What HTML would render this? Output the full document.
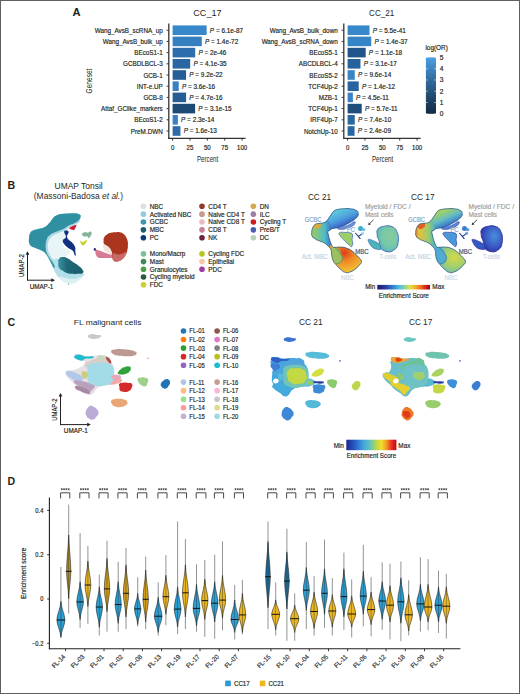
<!DOCTYPE html>
<html><head><meta charset="utf-8"><style>
html,body{margin:0;padding:0;background:#fff;}
body{width:520px;height:694px;overflow:hidden;}
#f{position:absolute;left:0;top:0;width:520px;height:694px;box-sizing:border-box;border:1px solid #606060;background:#fff;}
svg{position:absolute;left:0;top:0;font-family:"Liberation Sans",sans-serif;}
</style></head><body><div id="f"></div>
<svg width="520" height="694" viewBox="0 0 520 694" fill="#231f20">
<text x="72.40" y="16.20" font-size="11.2" font-weight="bold">A</text>
<text x="207.40" y="15.70" font-size="9.6" text-anchor="middle" textLength="28.30" lengthAdjust="spacingAndGlyphs">CC_17</text>
<rect x="172.60" y="25.40" width="34.05" height="9.60" fill="#3688cb"/>
<line x1="166.60" y1="30.20" x2="168.80" y2="30.20" stroke="#231f20" stroke-width="0.9"/>
<text x="162.70" y="32.70" font-size="7.2" text-anchor="end" textLength="68.01" lengthAdjust="spacingAndGlyphs" stroke="#231f20" stroke-width="0.18">Wang_AvsB_scRNA_up</text>
<text x="209.86" y="32.60" font-size="6.9" textLength="33.24" lengthAdjust="spacingAndGlyphs" stroke="#231f20" stroke-width="0.18"><tspan font-style="italic">P</tspan> = 6.1e-87</text>
<rect x="172.60" y="36.60" width="29.19" height="9.60" fill="#347fc0"/>
<line x1="166.60" y1="41.40" x2="168.80" y2="41.40" stroke="#231f20" stroke-width="0.9"/>
<text x="162.70" y="43.90" font-size="7.2" text-anchor="end" textLength="59.96" lengthAdjust="spacingAndGlyphs" stroke="#231f20" stroke-width="0.18">Wang_AvsB_bulk_up</text>
<text x="204.99" y="43.80" font-size="6.9" textLength="33.24" lengthAdjust="spacingAndGlyphs" stroke="#231f20" stroke-width="0.18"><tspan font-style="italic">P</tspan> = 1.4e-72</text>
<rect x="172.60" y="47.80" width="22.59" height="9.60" fill="#2d6dab"/>
<line x1="166.60" y1="52.60" x2="168.80" y2="52.60" stroke="#231f20" stroke-width="0.9"/>
<text x="162.70" y="55.10" font-size="7.2" text-anchor="end" textLength="28.40" lengthAdjust="spacingAndGlyphs" stroke="#231f20" stroke-width="0.18">BEcoS1-1</text>
<text x="198.39" y="55.00" font-size="6.9" textLength="27.89" lengthAdjust="spacingAndGlyphs" stroke="#231f20" stroke-width="0.18"><tspan font-style="italic">P</tspan> = 2e-46</text>
<rect x="172.60" y="59.00" width="17.58" height="9.60" fill="#2a67a2"/>
<line x1="166.60" y1="63.80" x2="168.80" y2="63.80" stroke="#231f20" stroke-width="0.9"/>
<text x="162.70" y="66.30" font-size="7.2" text-anchor="end" textLength="39.61" lengthAdjust="spacingAndGlyphs" stroke="#231f20" stroke-width="0.18">GCBDLBCL-3</text>
<text x="193.38" y="66.20" font-size="6.9" textLength="33.24" lengthAdjust="spacingAndGlyphs" stroke="#231f20" stroke-width="0.18"><tspan font-style="italic">P</tspan> = 4.1e-35</text>
<rect x="172.60" y="70.20" width="13.48" height="9.60" fill="#265f96"/>
<line x1="166.60" y1="75.00" x2="168.80" y2="75.00" stroke="#231f20" stroke-width="0.9"/>
<text x="162.70" y="77.50" font-size="7.2" text-anchor="end" textLength="19.28" lengthAdjust="spacingAndGlyphs" stroke="#231f20" stroke-width="0.18">GCB-1</text>
<text x="189.28" y="77.40" font-size="6.9" textLength="33.24" lengthAdjust="spacingAndGlyphs" stroke="#231f20" stroke-width="0.18"><tspan font-style="italic">P</tspan> = 9.2e-22</text>
<rect x="172.60" y="81.40" width="6.12" height="9.60" fill="#3a7fc0"/>
<line x1="166.60" y1="86.20" x2="168.80" y2="86.20" stroke="#231f20" stroke-width="0.9"/>
<text x="162.70" y="88.70" font-size="7.2" text-anchor="end" textLength="25.93" lengthAdjust="spacingAndGlyphs" stroke="#231f20" stroke-width="0.18">INT-e.UP</text>
<text x="181.92" y="88.60" font-size="6.9" textLength="33.24" lengthAdjust="spacingAndGlyphs" stroke="#231f20" stroke-width="0.18"><tspan font-style="italic">P</tspan> = 3.6e-16</text>
<rect x="172.60" y="92.60" width="13.48" height="9.60" fill="#265e94"/>
<line x1="166.60" y1="97.40" x2="168.80" y2="97.40" stroke="#231f20" stroke-width="0.9"/>
<text x="162.70" y="99.90" font-size="7.2" text-anchor="end" textLength="19.28" lengthAdjust="spacingAndGlyphs" stroke="#231f20" stroke-width="0.18">GCB-8</text>
<text x="189.28" y="99.80" font-size="6.9" textLength="33.24" lengthAdjust="spacingAndGlyphs" stroke="#231f20" stroke-width="0.18"><tspan font-style="italic">P</tspan> = 4.7e-16</text>
<rect x="172.60" y="103.80" width="22.52" height="9.60" fill="#1d4a74"/>
<line x1="166.60" y1="108.60" x2="168.80" y2="108.60" stroke="#231f20" stroke-width="0.9"/>
<text x="162.70" y="111.10" font-size="7.2" text-anchor="end" textLength="61.69" lengthAdjust="spacingAndGlyphs" stroke="#231f20" stroke-width="0.18">Attaf_GClike_markers</text>
<text x="198.32" y="111.00" font-size="6.9" textLength="33.24" lengthAdjust="spacingAndGlyphs" stroke="#231f20" stroke-width="0.18"><tspan font-style="italic">P</tspan> = 3.1e-15</text>
<rect x="172.60" y="115.00" width="5.28" height="9.60" fill="#3a80c0"/>
<line x1="166.60" y1="119.80" x2="168.80" y2="119.80" stroke="#231f20" stroke-width="0.9"/>
<text x="162.70" y="122.30" font-size="7.2" text-anchor="end" textLength="28.40" lengthAdjust="spacingAndGlyphs" stroke="#231f20" stroke-width="0.18">BEcoS1-2</text>
<text x="181.08" y="122.20" font-size="6.9" textLength="33.24" lengthAdjust="spacingAndGlyphs" stroke="#231f20" stroke-width="0.18"><tspan font-style="italic">P</tspan> = 2.3e-14</text>
<rect x="172.60" y="126.20" width="7.85" height="9.60" fill="#2d6aa6"/>
<line x1="166.60" y1="131.00" x2="168.80" y2="131.00" stroke="#231f20" stroke-width="0.9"/>
<text x="162.70" y="133.50" font-size="7.2" text-anchor="end" textLength="31.88" lengthAdjust="spacingAndGlyphs" stroke="#231f20" stroke-width="0.18">PreM.DWN</text>
<text x="183.65" y="133.40" font-size="6.9" textLength="33.24" lengthAdjust="spacingAndGlyphs" stroke="#231f20" stroke-width="0.18"><tspan font-style="italic">P</tspan> = 1.6e-13</text>
<line x1="168.80" y1="23.50" x2="168.80" y2="138.90" stroke="#333" stroke-width="1.3"/>
<line x1="168.20" y1="138.30" x2="245.60" y2="138.30" stroke="#333" stroke-width="1.2"/>
<line x1="172.60" y1="138.30" x2="172.60" y2="140.60" stroke="#231f20" stroke-width="0.9"/>
<text x="172.60" y="149.60" font-size="6.6" text-anchor="middle" textLength="3.38" lengthAdjust="spacingAndGlyphs" stroke="#231f20" stroke-width="0.18">0</text>
<line x1="189.98" y1="138.30" x2="189.98" y2="140.60" stroke="#231f20" stroke-width="0.9"/>
<text x="189.98" y="149.60" font-size="6.6" text-anchor="middle" textLength="6.75" lengthAdjust="spacingAndGlyphs" stroke="#231f20" stroke-width="0.18">25</text>
<line x1="207.35" y1="138.30" x2="207.35" y2="140.60" stroke="#231f20" stroke-width="0.9"/>
<text x="207.35" y="149.60" font-size="6.6" text-anchor="middle" textLength="6.75" lengthAdjust="spacingAndGlyphs" stroke="#231f20" stroke-width="0.18">50</text>
<line x1="224.73" y1="138.30" x2="224.73" y2="140.60" stroke="#231f20" stroke-width="0.9"/>
<text x="224.73" y="149.60" font-size="6.6" text-anchor="middle" textLength="6.75" lengthAdjust="spacingAndGlyphs" stroke="#231f20" stroke-width="0.18">75</text>
<line x1="242.10" y1="138.30" x2="242.10" y2="140.60" stroke="#231f20" stroke-width="0.9"/>
<text x="242.10" y="149.60" font-size="6.6" text-anchor="middle" textLength="10.13" lengthAdjust="spacingAndGlyphs" stroke="#231f20" stroke-width="0.18">100</text>
<text x="207.60" y="161.60" font-size="8.3" text-anchor="middle" textLength="21.30" lengthAdjust="spacingAndGlyphs">Percent</text>
<text x="381.70" y="15.70" font-size="9.6" text-anchor="middle" textLength="25.30" lengthAdjust="spacingAndGlyphs">CC_21</text>
<rect x="347.60" y="25.40" width="21.89" height="9.60" fill="#3688cb"/>
<line x1="341.60" y1="30.20" x2="343.80" y2="30.20" stroke="#231f20" stroke-width="0.9"/>
<text x="337.70" y="32.70" font-size="7.2" text-anchor="end" textLength="68.02" lengthAdjust="spacingAndGlyphs" stroke="#231f20" stroke-width="0.18">Wang_AvsB_bulk_down</text>
<text x="372.69" y="32.60" font-size="6.9" textLength="33.24" lengthAdjust="spacingAndGlyphs" stroke="#231f20" stroke-width="0.18"><tspan font-style="italic">P</tspan> = 5.5e-41</text>
<rect x="347.60" y="36.60" width="23.63" height="9.60" fill="#3584c6"/>
<line x1="341.60" y1="41.40" x2="343.80" y2="41.40" stroke="#231f20" stroke-width="0.9"/>
<text x="337.70" y="43.90" font-size="7.2" text-anchor="end" textLength="76.07" lengthAdjust="spacingAndGlyphs" stroke="#231f20" stroke-width="0.18">Wang_AvsB_scRNA_down</text>
<text x="374.43" y="43.80" font-size="6.9" textLength="33.24" lengthAdjust="spacingAndGlyphs" stroke="#231f20" stroke-width="0.18"><tspan font-style="italic">P</tspan> = 1.4e-37</text>
<rect x="347.60" y="47.80" width="18.07" height="9.60" fill="#21548a"/>
<line x1="341.60" y1="52.60" x2="343.80" y2="52.60" stroke="#231f20" stroke-width="0.9"/>
<text x="337.70" y="55.10" font-size="7.2" text-anchor="end" textLength="28.40" lengthAdjust="spacingAndGlyphs" stroke="#231f20" stroke-width="0.18">BEcoS5-1</text>
<text x="368.87" y="55.00" font-size="6.9" textLength="33.24" lengthAdjust="spacingAndGlyphs" stroke="#231f20" stroke-width="0.18"><tspan font-style="italic">P</tspan> = 1.1e-18</text>
<rect x="347.60" y="59.00" width="12.86" height="9.60" fill="#28629c"/>
<line x1="341.60" y1="63.80" x2="343.80" y2="63.80" stroke="#231f20" stroke-width="0.9"/>
<text x="337.70" y="66.30" font-size="7.2" text-anchor="end" textLength="38.91" lengthAdjust="spacingAndGlyphs" stroke="#231f20" stroke-width="0.18">ABCDLBCL-4</text>
<text x="363.66" y="66.20" font-size="6.9" textLength="33.24" lengthAdjust="spacingAndGlyphs" stroke="#231f20" stroke-width="0.18"><tspan font-style="italic">P</tspan> = 3.1e-17</text>
<rect x="347.60" y="70.20" width="7.16" height="9.60" fill="#3a84c6"/>
<line x1="341.60" y1="75.00" x2="343.80" y2="75.00" stroke="#231f20" stroke-width="0.9"/>
<text x="337.70" y="77.50" font-size="7.2" text-anchor="end" textLength="28.40" lengthAdjust="spacingAndGlyphs" stroke="#231f20" stroke-width="0.18">BEcoS5-2</text>
<text x="357.96" y="77.40" font-size="6.9" textLength="33.24" lengthAdjust="spacingAndGlyphs" stroke="#231f20" stroke-width="0.18"><tspan font-style="italic">P</tspan> = 9.6e-14</text>
<rect x="347.60" y="81.40" width="11.12" height="9.60" fill="#2a649e"/>
<line x1="341.60" y1="86.20" x2="343.80" y2="86.20" stroke="#231f20" stroke-width="0.9"/>
<text x="337.70" y="88.70" font-size="7.2" text-anchor="end" textLength="29.44" lengthAdjust="spacingAndGlyphs" stroke="#231f20" stroke-width="0.18">TCF4Up-2</text>
<text x="361.92" y="88.60" font-size="6.9" textLength="33.24" lengthAdjust="spacingAndGlyphs" stroke="#231f20" stroke-width="0.18"><tspan font-style="italic">P</tspan> = 1.4e-12</text>
<rect x="347.60" y="92.60" width="5.28" height="9.60" fill="#3a82c2"/>
<line x1="341.60" y1="97.40" x2="343.80" y2="97.40" stroke="#231f20" stroke-width="0.9"/>
<text x="337.70" y="99.90" font-size="7.2" text-anchor="end" textLength="18.92" lengthAdjust="spacingAndGlyphs" stroke="#231f20" stroke-width="0.18">MZB-1</text>
<text x="356.08" y="99.80" font-size="6.9" textLength="32.76" lengthAdjust="spacingAndGlyphs" stroke="#231f20" stroke-width="0.18"><tspan font-style="italic">P</tspan> = 4.5e-11</text>
<rect x="347.60" y="103.80" width="14.11" height="9.60" fill="#1f4d7c"/>
<line x1="341.60" y1="108.60" x2="343.80" y2="108.60" stroke="#231f20" stroke-width="0.9"/>
<text x="337.70" y="111.10" font-size="7.2" text-anchor="end" textLength="29.44" lengthAdjust="spacingAndGlyphs" stroke="#231f20" stroke-width="0.18">TCF4Up-1</text>
<text x="364.91" y="111.00" font-size="6.9" textLength="32.76" lengthAdjust="spacingAndGlyphs" stroke="#231f20" stroke-width="0.18"><tspan font-style="italic">P</tspan> = 5.7e-11</text>
<rect x="347.60" y="115.00" width="7.16" height="9.60" fill="#2a66a0"/>
<line x1="341.60" y1="119.80" x2="343.80" y2="119.80" stroke="#231f20" stroke-width="0.9"/>
<text x="337.70" y="122.30" font-size="7.2" text-anchor="end" textLength="27.34" lengthAdjust="spacingAndGlyphs" stroke="#231f20" stroke-width="0.18">IRF4Up-7</text>
<text x="357.96" y="122.20" font-size="6.9" textLength="33.24" lengthAdjust="spacingAndGlyphs" stroke="#231f20" stroke-width="0.18"><tspan font-style="italic">P</tspan> = 7.4e-10</text>
<rect x="347.60" y="126.20" width="6.95" height="9.60" fill="#2a66a0"/>
<line x1="341.60" y1="131.00" x2="343.80" y2="131.00" stroke="#231f20" stroke-width="0.9"/>
<text x="337.70" y="133.50" font-size="7.2" text-anchor="end" textLength="33.65" lengthAdjust="spacingAndGlyphs" stroke="#231f20" stroke-width="0.18">NotchUp-10</text>
<text x="357.75" y="133.40" font-size="6.9" textLength="33.24" lengthAdjust="spacingAndGlyphs" stroke="#231f20" stroke-width="0.18"><tspan font-style="italic">P</tspan> = 2.4e-09</text>
<line x1="343.80" y1="23.50" x2="343.80" y2="138.90" stroke="#333" stroke-width="1.3"/>
<line x1="343.20" y1="138.30" x2="420.60" y2="138.30" stroke="#333" stroke-width="1.2"/>
<line x1="347.60" y1="138.30" x2="347.60" y2="140.60" stroke="#231f20" stroke-width="0.9"/>
<text x="347.60" y="149.60" font-size="6.6" text-anchor="middle" textLength="3.38" lengthAdjust="spacingAndGlyphs" stroke="#231f20" stroke-width="0.18">0</text>
<line x1="364.98" y1="138.30" x2="364.98" y2="140.60" stroke="#231f20" stroke-width="0.9"/>
<text x="364.98" y="149.60" font-size="6.6" text-anchor="middle" textLength="6.75" lengthAdjust="spacingAndGlyphs" stroke="#231f20" stroke-width="0.18">25</text>
<line x1="382.35" y1="138.30" x2="382.35" y2="140.60" stroke="#231f20" stroke-width="0.9"/>
<text x="382.35" y="149.60" font-size="6.6" text-anchor="middle" textLength="6.75" lengthAdjust="spacingAndGlyphs" stroke="#231f20" stroke-width="0.18">50</text>
<line x1="399.73" y1="138.30" x2="399.73" y2="140.60" stroke="#231f20" stroke-width="0.9"/>
<text x="399.73" y="149.60" font-size="6.6" text-anchor="middle" textLength="6.75" lengthAdjust="spacingAndGlyphs" stroke="#231f20" stroke-width="0.18">75</text>
<line x1="417.10" y1="138.30" x2="417.10" y2="140.60" stroke="#231f20" stroke-width="0.9"/>
<text x="417.10" y="149.60" font-size="6.6" text-anchor="middle" textLength="10.13" lengthAdjust="spacingAndGlyphs" stroke="#231f20" stroke-width="0.18">100</text>
<text x="382.60" y="161.60" font-size="8.3" text-anchor="middle" textLength="21.30" lengthAdjust="spacingAndGlyphs">Percent</text>
<text x="92.20" y="81.00" font-size="9.6" text-anchor="middle" textLength="24.80" lengthAdjust="spacingAndGlyphs" transform="rotate(-90 92.20 81.00)">Geneset</text>
<defs><linearGradient id="gOR" x1="0" y1="1" x2="0" y2="0"><stop offset="0" stop-color="#132b43"/><stop offset="0.2" stop-color="#1d3f5f"/><stop offset="0.4" stop-color="#28557e"/><stop offset="0.6" stop-color="#336c9f"/><stop offset="0.8" stop-color="#3e84c1"/><stop offset="1" stop-color="#4d9fe4"/></linearGradient></defs>
<rect x="425.90" y="57.40" width="10.10" height="56.40" fill="url(#gOR)"/>
<line x1="425.90" y1="113.80" x2="427.60" y2="113.80" stroke="#ffffff" stroke-width="0.6"/>
<line x1="434.30" y1="113.80" x2="436.00" y2="113.80" stroke="#ffffff" stroke-width="0.6"/>
<text x="439.80" y="116.10" font-size="6.6" stroke="#231f20" stroke-width="0.18">0</text>
<line x1="425.90" y1="102.52" x2="427.60" y2="102.52" stroke="#ffffff" stroke-width="0.6"/>
<line x1="434.30" y1="102.52" x2="436.00" y2="102.52" stroke="#ffffff" stroke-width="0.6"/>
<text x="439.80" y="104.82" font-size="6.6" stroke="#231f20" stroke-width="0.18">1</text>
<line x1="425.90" y1="91.24" x2="427.60" y2="91.24" stroke="#ffffff" stroke-width="0.6"/>
<line x1="434.30" y1="91.24" x2="436.00" y2="91.24" stroke="#ffffff" stroke-width="0.6"/>
<text x="439.80" y="93.54" font-size="6.6" stroke="#231f20" stroke-width="0.18">2</text>
<line x1="425.90" y1="79.96" x2="427.60" y2="79.96" stroke="#ffffff" stroke-width="0.6"/>
<line x1="434.30" y1="79.96" x2="436.00" y2="79.96" stroke="#ffffff" stroke-width="0.6"/>
<text x="439.80" y="82.26" font-size="6.6" stroke="#231f20" stroke-width="0.18">3</text>
<line x1="425.90" y1="68.68" x2="427.60" y2="68.68" stroke="#ffffff" stroke-width="0.6"/>
<line x1="434.30" y1="68.68" x2="436.00" y2="68.68" stroke="#ffffff" stroke-width="0.6"/>
<text x="439.80" y="70.98" font-size="6.6" stroke="#231f20" stroke-width="0.18">4</text>
<line x1="425.90" y1="57.40" x2="427.60" y2="57.40" stroke="#ffffff" stroke-width="0.6"/>
<line x1="434.30" y1="57.40" x2="436.00" y2="57.40" stroke="#ffffff" stroke-width="0.6"/>
<text x="439.80" y="59.70" font-size="6.6" stroke="#231f20" stroke-width="0.18">5</text>
<text x="425.40" y="50.30" font-size="6.9" textLength="22.50" lengthAdjust="spacingAndGlyphs" stroke="#231f20" stroke-width="0.18">log(OR)</text>
<text x="7.40" y="188.80" font-size="10.6" font-weight="bold">B</text>
<text x="78.60" y="189.20" font-size="8.6" text-anchor="middle" textLength="48.10" lengthAdjust="spacingAndGlyphs">UMAP Tonsil</text>
<text x="33.8" y="198.9" font-size="8.6" textLength="89.4" lengthAdjust="spacingAndGlyphs" fill="#2a2a2a">(Massoni-Badosa <tspan font-style="italic">et al.</tspan>)</text>
<path d="M46.50,236.00 C48.67,232.27 48.17,234.53 52.00,232.80 C55.83,231.07 54.00,232.07 58.00,230.80 C62.00,229.53 60.67,229.43 64.00,229.00 C67.33,228.57 67.17,227.83 68.00,229.50 C68.83,231.17 67.83,230.83 66.50,234.00 C65.17,237.17 65.17,235.67 64.00,239.00 C62.83,242.33 62.33,240.83 63.00,244.00 C63.67,247.17 63.67,246.17 66.00,248.50 C68.33,250.83 70.00,248.50 70.00,251.00 C70.00,253.50 69.33,254.00 66.00,256.00 C62.67,258.00 63.33,255.67 60.00,257.00 C56.67,258.33 58.33,258.00 56.00,260.00 C53.67,262.00 55.00,263.67 53.00,263.00 C51.00,262.33 52.17,261.67 50.00,258.00 C47.83,254.33 48.00,256.67 46.50,252.00 C45.00,247.33 45.50,249.33 45.50,244.00 C45.50,238.67 44.33,239.73 46.50,236.00Z" fill="#e9f4f7"/>
<path d="M51.50,259.40 C52.55,258.50 52.90,259.62 55.00,259.50 C57.10,259.38 57.00,257.05 58.50,259.00 C60.00,260.95 57.75,262.25 60.00,266.00 C62.25,269.75 61.80,269.16 66.00,271.50 C70.20,273.84 68.81,273.11 74.00,273.80 C79.19,274.49 80.90,272.84 83.30,273.80 C85.70,274.76 83.59,274.99 82.00,277.00 C80.41,279.01 81.00,278.61 78.00,280.50 C75.00,282.39 75.60,282.70 72.00,283.30 C68.40,283.90 69.60,283.94 66.00,282.50 C62.40,281.06 63.15,281.35 60.00,278.50 C56.85,275.65 57.60,276.45 55.50,273.00 C53.40,269.55 54.20,270.15 53.00,267.00 C51.80,263.85 51.95,264.78 51.50,262.50 C51.05,260.22 50.45,260.30 51.50,259.40Z" fill="#b2dfe8"/>
<path d="M60.00,276.50 C61.50,276.00 61.33,277.23 66.00,278.00 C70.67,278.77 69.00,279.20 74.00,278.80 C79.00,278.40 79.67,276.13 81.00,276.80 C82.33,277.47 81.00,278.53 78.00,280.80 C75.00,283.07 76.00,282.93 72.00,283.60 C68.00,284.27 69.50,284.17 66.00,282.80 C62.50,281.43 63.50,281.60 61.50,279.50 C59.50,277.40 58.50,277.00 60.00,276.50Z" fill="#dcf0f4"/>
<path d="M78.60,221.20 C77.07,222.10 76.44,222.70 73.50,224.20 C70.56,225.70 71.59,224.64 68.80,226.20 C66.01,227.76 66.96,227.87 64.20,229.40 C61.44,230.93 62.72,230.04 59.60,231.30 C56.48,232.56 56.74,232.01 53.80,233.60 C50.86,235.19 51.66,234.68 49.80,236.60 C47.94,238.52 48.56,237.78 47.60,240.00 C46.64,242.22 46.90,241.48 46.60,244.00 C46.30,246.52 46.30,245.70 46.60,248.40 C46.90,251.10 46.64,250.30 47.60,253.00 C48.56,255.70 48.36,254.94 49.80,257.40 C51.24,259.86 51.62,260.06 52.40,261.20" fill="none" stroke="#a9d8e3" stroke-width="2.6" stroke-linecap="round"/>
<path d="M56.20,215.50 C59.15,214.20 58.20,214.45 63.10,213.80 C68.00,213.15 68.94,213.06 73.50,213.20 C78.06,213.34 77.19,213.17 79.20,214.30 C81.21,215.43 80.91,215.39 80.60,217.20 C80.29,219.01 80.11,218.89 78.10,220.70 C76.09,222.51 76.14,222.21 73.50,223.60 C70.86,224.99 71.44,224.18 68.80,225.60 C66.16,227.02 66.81,227.21 64.20,228.60 C61.59,229.99 62.55,229.31 59.60,230.50 C56.65,231.69 56.75,231.33 53.80,232.80 C50.85,234.27 51.16,233.89 49.20,235.70 C47.25,237.51 47.86,236.90 46.90,239.20 C45.94,241.50 46.11,241.19 45.80,243.80 C45.49,246.41 45.49,245.79 45.80,248.40 C46.11,251.01 45.94,250.39 46.90,253.00 C47.86,255.61 47.70,255.11 49.20,257.60 C50.70,260.09 50.67,259.42 52.20,261.80 C53.73,264.18 54.20,264.36 54.60,266.00 C55.00,267.64 54.39,268.05 53.60,267.60 C52.81,267.15 52.93,266.50 51.80,264.40 C50.67,262.30 50.76,262.35 49.60,260.20 C48.44,258.05 48.89,258.73 47.70,256.80 C46.51,254.87 46.93,255.07 45.40,253.40 C43.87,251.73 44.82,252.32 42.30,250.90 C39.78,249.48 39.64,249.73 36.50,248.40 C33.36,247.07 33.30,247.84 31.20,246.20 C29.10,244.56 29.72,244.92 29.10,242.60 C28.48,240.28 28.69,240.72 29.00,238.00 C29.31,235.28 29.04,235.12 30.20,233.00 C31.36,230.88 30.66,231.69 33.10,230.50 C35.54,229.31 35.54,229.79 38.80,228.80 C42.06,227.81 41.65,228.64 44.60,227.00 C47.55,225.36 46.91,225.44 49.20,223.00 C51.50,220.56 50.72,220.53 52.70,218.40 C54.68,216.28 53.25,216.80 56.20,215.50Z" fill="#2f90a2"/>
<defs><linearGradient id="gMBC" x1="0" y1="0" x2="1" y2="0"><stop offset="0" stop-color="#3a92a4"/><stop offset="0.35" stop-color="#1f6878"/><stop offset="1" stop-color="#1b5d6c"/></linearGradient></defs>
<path d="M59.20,258.50 C60.64,256.61 60.49,257.00 63.10,257.00 C65.71,257.00 65.02,257.06 67.90,258.50 C70.78,259.94 69.52,259.64 72.70,261.80 C75.88,263.96 75.62,263.39 78.50,265.70 C81.38,268.01 81.01,267.34 82.30,269.50 C83.59,271.66 83.94,271.61 82.80,272.90 C81.66,274.19 81.83,273.53 78.50,273.80 C75.17,274.07 75.18,274.07 71.70,273.80 C68.22,273.53 69.48,273.74 66.90,272.90 C64.32,272.06 65.41,272.44 63.10,271.00 C60.79,269.56 60.64,270.41 59.20,268.10 C57.76,265.79 58.30,266.18 58.30,263.30 C58.30,260.42 57.76,260.39 59.20,258.50Z" fill="url(#gMBC)"/>
<circle cx="68.40" cy="284.40" r="0.6" fill="#8aa4b0"/>
<path d="M64.40,231.00 C64.84,230.32 65.54,230.51 66.50,230.60 C67.46,230.69 68.10,230.72 68.50,231.40 C68.90,232.08 68.48,232.66 68.20,233.50 C67.92,234.34 67.53,234.07 67.30,235.00 C67.07,235.93 66.92,236.45 67.20,237.50 C67.48,238.55 67.50,238.45 68.50,239.50 C69.50,240.55 70.22,240.72 71.50,242.00 C72.78,243.28 73.09,243.60 74.00,245.00 C74.91,246.40 75.12,246.72 75.40,248.00 C75.68,249.28 75.15,249.22 75.20,250.50 C75.25,251.78 75.46,252.31 75.60,253.50 C75.74,254.69 76.03,255.25 75.80,255.60 C75.57,255.95 75.11,255.84 74.60,255.00 C74.09,254.16 74.09,253.05 73.60,252.00 C73.11,250.95 73.34,251.20 72.50,250.50 C71.66,249.80 71.40,249.93 70.00,249.00 C68.60,248.07 67.95,247.78 66.50,246.50 C65.05,245.22 64.66,244.78 63.80,243.50 C62.94,242.22 62.85,242.00 62.80,241.00 C62.75,240.00 62.99,239.90 63.60,239.20 C64.21,238.50 64.89,238.86 65.40,238.00 C65.91,237.14 65.99,236.55 65.80,235.50 C65.61,234.45 64.93,234.55 64.60,233.50 C64.27,232.45 63.96,231.68 64.40,231.00Z" fill="#12307f"/>
<path d="M68.8,228.3 C71,226.5 74,225.5 76.6,224.8 C76,226.8 75.2,228.8 74,230.2 C72,229.8 70.3,229.2 68.8,228.3 Z" fill="#cc2030"/>
<path d="M82.00,234.60 C81.90,233.43 81.97,233.60 83.30,232.80 C84.63,232.00 84.37,232.27 86.00,232.20 C87.63,232.13 86.80,232.80 88.20,232.60 C89.60,232.40 89.07,231.53 90.20,231.60 C91.33,231.67 91.27,231.67 91.60,232.80 C91.93,233.93 91.87,233.47 91.20,235.00 C90.53,236.53 90.47,236.33 89.60,237.40 C88.73,238.47 89.33,238.47 88.60,238.20 C87.87,237.93 88.43,237.20 87.40,236.60 C86.37,236.00 86.77,236.50 85.50,236.40 C84.23,236.30 84.77,236.90 83.60,236.30 C82.43,235.70 82.10,235.77 82.00,234.60Z" fill="#88b49c"/>
<path d="M79.5,240.6 L82.6,242.3 L86.4,239.9 L87,241.2 L83.6,245.7 L81.4,244.4 Z" fill="#c8d12a"/>
<path d="M95.60,250.00 C96.53,249.55 97.03,250.07 99.00,250.60 C100.97,251.13 100.87,251.23 103.00,252.00 C105.13,252.77 105.13,252.81 107.00,253.50 C108.87,254.19 108.43,253.99 110.00,254.60 C111.57,255.21 112.26,255.03 112.90,255.80 C113.54,256.57 113.17,256.91 112.40,257.50 C111.63,258.09 111.71,257.89 110.00,258.00 C108.29,258.11 108.40,257.90 106.00,257.90 C103.60,257.90 103.19,258.19 101.00,258.00 C98.81,257.81 99.13,258.00 97.80,257.20 C96.47,256.40 96.61,256.31 96.00,255.00 C95.39,253.69 95.61,253.63 95.50,252.30 C95.39,250.97 94.67,250.45 95.60,250.00Z" fill="#d77b95"/>
<path d="M104.20,237.50 C105.22,235.73 104.96,236.01 107.00,234.60 C109.04,233.19 108.36,233.52 111.00,232.80 C113.64,232.08 113.10,232.35 115.80,232.20 C118.50,232.05 117.69,231.76 120.00,232.30 C122.31,232.84 121.70,232.59 123.50,234.00 C125.30,235.41 124.77,234.90 126.00,237.00 C127.23,239.10 127.03,238.45 127.60,241.00 C128.17,243.55 127.96,242.80 127.90,245.50 C127.84,248.20 128.03,247.30 127.40,250.00 C126.77,252.70 127.12,252.01 125.80,254.50 C124.48,256.99 124.89,256.41 123.00,258.30 C121.11,260.19 121.51,259.81 119.50,260.80 C117.49,261.79 118.07,261.72 116.30,261.60 C114.53,261.48 114.80,261.63 113.60,260.40 C112.40,259.17 112.90,259.42 112.30,257.50 C111.70,255.58 112.17,256.10 111.60,254.00 C111.03,251.90 111.30,252.45 110.40,250.50 C109.50,248.55 109.92,249.06 108.60,247.50 C107.28,245.94 107.38,246.41 106.00,245.30 C104.62,244.19 104.72,245.24 104.00,243.80 C103.28,242.36 103.54,242.39 103.60,240.50 C103.66,238.61 103.18,239.27 104.20,237.50Z" fill="#aa3620"/>
<path d="M113.50,253.50 C115.30,252.50 115.00,254.50 118.00,254.50 C121.00,254.50 119.83,254.33 122.50,253.50 C125.17,252.67 125.17,251.17 126.00,252.00 C126.83,252.83 126.33,253.50 125.00,256.00 C123.67,258.50 124.33,257.77 122.00,259.50 C119.67,261.23 120.60,260.83 118.00,261.20 C115.40,261.57 116.00,261.83 114.20,260.60 C112.40,259.37 112.83,259.87 112.60,257.50 C112.37,255.13 111.70,254.50 113.50,253.50Z" fill="#c9696a"/>
<path d="M103.50,245.30 C104.47,244.40 104.50,244.97 106.50,245.80 C108.50,246.63 107.87,246.07 109.50,247.80 C111.13,249.53 110.63,249.07 111.40,251.00 C112.17,252.93 112.77,252.87 111.80,253.60 C110.83,254.33 110.60,253.90 108.50,253.20 C106.40,252.50 107.13,253.07 105.50,251.50 C103.87,249.93 104.27,250.57 103.60,248.50 C102.93,246.43 102.53,246.20 103.50,245.30Z" fill="#f2e2da"/>
<ellipse cx="94.8" cy="249.4" rx="1.1" ry="1.4" fill="#2b2a78"/>
<line x1="27.50" y1="280.20" x2="52.50" y2="280.20" stroke="#231f20" stroke-width="1.0"/>
<line x1="27.50" y1="280.70" x2="27.50" y2="253.70" stroke="#231f20" stroke-width="1.0"/>
<path d="M55.00,280.20 L51.40,278.30 L51.40,282.10 Z" fill="#231f20"/>
<path d="M27.50,251.20 L25.60,254.80 L29.40,254.80 Z" fill="#231f20"/>
<text x="41.50" y="289.10" font-size="6.6" text-anchor="middle" textLength="23.70" lengthAdjust="spacingAndGlyphs" stroke="#231f20" stroke-width="0.18">UMAP-1</text>
<text x="23.60" y="265.60" font-size="6.6" text-anchor="middle" textLength="23.00" lengthAdjust="spacingAndGlyphs" transform="rotate(-90 23.60 265.60)" stroke="#231f20" stroke-width="0.18">UMAP-2</text>
<circle cx="143.40" cy="206.30" r="2.8" fill="#dcdfe4"/>
<text x="149.70" y="208.70" font-size="7.1" textLength="13.52" lengthAdjust="spacingAndGlyphs" stroke="#231f20" stroke-width="0.18">NBC</text>
<circle cx="143.40" cy="214.15" r="2.8" fill="#93cadb"/>
<text x="149.70" y="216.55" font-size="7.1" textLength="41.63" lengthAdjust="spacingAndGlyphs" stroke="#231f20" stroke-width="0.18">Activated NBC</text>
<circle cx="143.40" cy="222.00" r="2.8" fill="#3e98ad"/>
<text x="149.70" y="224.40" font-size="7.1" textLength="18.50" lengthAdjust="spacingAndGlyphs" stroke="#231f20" stroke-width="0.18">GCBC</text>
<circle cx="143.40" cy="229.85" r="2.8" fill="#1f5d6d"/>
<text x="149.70" y="232.25" font-size="7.1" textLength="14.23" lengthAdjust="spacingAndGlyphs" stroke="#231f20" stroke-width="0.18">MBC</text>
<circle cx="143.40" cy="237.70" r="2.8" fill="#0d3a78"/>
<text x="149.70" y="240.10" font-size="7.1" textLength="8.89" lengthAdjust="spacingAndGlyphs" stroke="#231f20" stroke-width="0.18">PC</text>
<circle cx="202.00" cy="206.30" r="2.8" fill="#8c3a2a"/>
<text x="208.30" y="208.70" font-size="7.1" textLength="18.38" lengthAdjust="spacingAndGlyphs" stroke="#231f20" stroke-width="0.18">CD4 T</text>
<circle cx="202.00" cy="214.15" r="2.8" fill="#c9998d"/>
<text x="208.30" y="216.55" font-size="7.1" textLength="36.53" lengthAdjust="spacingAndGlyphs" stroke="#231f20" stroke-width="0.18">Naive CD4 T</text>
<circle cx="202.00" cy="222.00" r="2.8" fill="#eabdc4"/>
<text x="208.30" y="224.40" font-size="7.1" textLength="36.53" lengthAdjust="spacingAndGlyphs" stroke="#231f20" stroke-width="0.18">Naive CD8 T</text>
<circle cx="202.00" cy="229.85" r="2.8" fill="#c5819c"/>
<text x="208.30" y="232.25" font-size="7.1" textLength="18.38" lengthAdjust="spacingAndGlyphs" stroke="#231f20" stroke-width="0.18">CD8 T</text>
<circle cx="202.00" cy="237.70" r="2.8" fill="#6b2443"/>
<text x="208.30" y="240.10" font-size="7.1" textLength="8.89" lengthAdjust="spacingAndGlyphs" stroke="#231f20" stroke-width="0.18">NK</text>
<circle cx="253.40" cy="206.30" r="2.8" fill="#d3a94d"/>
<text x="259.70" y="208.70" font-size="7.1" textLength="9.25" lengthAdjust="spacingAndGlyphs" stroke="#231f20" stroke-width="0.18">DN</text>
<circle cx="253.40" cy="214.15" r="2.8" fill="#9b7fa8"/>
<text x="259.70" y="216.55" font-size="7.1" textLength="9.96" lengthAdjust="spacingAndGlyphs" stroke="#231f20" stroke-width="0.18">ILC</text>
<circle cx="253.40" cy="222.00" r="2.8" fill="#cc1c1e"/>
<text x="259.70" y="224.40" font-size="7.1" textLength="26.56" lengthAdjust="spacingAndGlyphs" stroke="#231f20" stroke-width="0.18">Cycling T</text>
<circle cx="253.40" cy="229.85" r="2.8" fill="#4a5bb0"/>
<text x="259.70" y="232.25" font-size="7.1" textLength="19.92" lengthAdjust="spacingAndGlyphs" stroke="#231f20" stroke-width="0.18">PreB/T</text>
<circle cx="253.40" cy="237.70" r="2.8" fill="#b9d1b9"/>
<text x="259.70" y="240.10" font-size="7.1" textLength="9.25" lengthAdjust="spacingAndGlyphs" stroke="#231f20" stroke-width="0.18">DC</text>
<circle cx="143.50" cy="253.90" r="2.8" fill="#7dbf9a"/>
<text x="149.80" y="256.30" font-size="7.1" textLength="35.58" lengthAdjust="spacingAndGlyphs" stroke="#231f20" stroke-width="0.18">Mono/Macrp</text>
<circle cx="143.50" cy="261.60" r="2.8" fill="#3d8a5e"/>
<text x="149.80" y="264.00" font-size="7.1" textLength="13.87" lengthAdjust="spacingAndGlyphs" stroke="#231f20" stroke-width="0.18">Mast</text>
<circle cx="143.50" cy="269.30" r="2.8" fill="#4aa043"/>
<text x="149.80" y="271.70" font-size="7.1" textLength="37.72" lengthAdjust="spacingAndGlyphs" stroke="#231f20" stroke-width="0.18">Granulocytes</text>
<circle cx="143.50" cy="277.00" r="2.8" fill="#2e5a3e"/>
<text x="149.80" y="279.40" font-size="7.1" textLength="44.83" lengthAdjust="spacingAndGlyphs" stroke="#231f20" stroke-width="0.18">Cycling myeloid</text>
<circle cx="143.50" cy="284.70" r="2.8" fill="#c8d02a"/>
<text x="149.80" y="287.10" font-size="7.1" textLength="13.16" lengthAdjust="spacingAndGlyphs" stroke="#231f20" stroke-width="0.18">FDC</text>
<circle cx="202.00" cy="253.90" r="2.8" fill="#b6c41f"/>
<text x="208.30" y="256.30" font-size="7.1" textLength="35.93" lengthAdjust="spacingAndGlyphs" stroke="#231f20" stroke-width="0.18">Cycling FDC</text>
<circle cx="202.00" cy="261.60" r="2.8" fill="#f6caa9"/>
<text x="208.30" y="264.00" font-size="7.1" textLength="25.98" lengthAdjust="spacingAndGlyphs" stroke="#231f20" stroke-width="0.18">Epithelial</text>
<circle cx="202.00" cy="269.30" r="2.8" fill="#a23ca2"/>
<text x="208.30" y="271.70" font-size="7.1" textLength="13.52" lengthAdjust="spacingAndGlyphs" stroke="#231f20" stroke-width="0.18">PDC</text>
<text x="307.90" y="199.60" font-size="8.9" textLength="23.10" lengthAdjust="spacingAndGlyphs">CC 21</text>
<text x="411.00" y="199.60" font-size="8.9" textLength="23.60" lengthAdjust="spacingAndGlyphs">CC 17</text>
<defs><clipPath id="cma"><path d="M312.30,236.20 C311.19,234.13 311.71,234.60 311.80,232.20 C311.89,229.80 311.67,230.45 312.60,228.20 C313.53,225.95 313.16,226.11 314.90,224.70 C316.64,223.29 316.15,224.01 318.40,223.50 C320.65,222.99 320.15,223.57 322.40,223.00 C324.65,222.43 323.65,223.55 325.90,221.60 C328.15,219.65 327.80,219.32 329.90,216.50 C332.00,213.68 330.95,214.21 332.90,212.20 C334.85,210.19 333.28,210.82 336.40,209.80 C339.52,208.78 339.16,209.10 343.30,208.80 C347.44,208.50 346.45,208.38 350.20,208.80 C353.95,209.22 353.40,208.85 355.80,210.20 C358.20,211.55 357.78,211.32 358.20,213.30 C358.62,215.28 358.34,214.94 357.20,216.80 C356.06,218.66 356.08,218.06 354.40,219.50 C352.72,220.94 353.25,220.55 351.60,221.60 C349.95,222.65 350.55,222.16 348.90,223.00 C347.25,223.84 347.78,223.56 346.10,224.40 C344.42,225.24 345.16,224.96 343.30,225.80 C341.44,226.64 341.97,226.57 339.90,227.20 C337.83,227.83 338.50,227.51 336.40,227.90 C334.30,228.29 334.76,227.90 332.90,228.50 C331.04,229.10 331.67,228.97 330.20,229.90 C328.73,230.83 328.48,229.92 328.00,231.60 C327.52,233.28 328.12,233.13 328.60,235.50 C329.08,237.87 328.91,237.19 329.60,239.50 C330.29,241.81 330.00,241.07 330.90,243.20 C331.80,245.33 331.31,245.37 332.60,246.60 C333.89,247.83 332.56,247.15 335.20,247.30 C337.84,247.45 337.71,246.74 341.40,247.10 C345.09,247.46 344.32,247.33 347.50,248.50 C350.68,249.67 349.69,249.41 352.00,251.00 C354.31,252.59 352.86,251.55 355.20,253.80 C357.54,256.05 357.94,256.19 359.80,258.50 C361.66,260.81 361.22,259.85 361.40,261.50 C361.58,263.15 361.12,262.83 360.40,264.00 C359.68,265.17 360.56,263.84 359.00,265.40 C357.44,266.96 358.20,267.13 355.20,269.20 C352.20,271.27 352.00,271.37 349.00,272.30 C346.00,273.23 347.48,272.99 345.20,272.30 C342.92,271.61 344.16,272.31 341.40,270.00 C338.64,267.69 338.55,267.60 336.00,264.60 C333.45,261.60 334.16,262.76 332.90,260.00 C331.64,257.24 332.25,257.95 331.80,255.40 C331.35,252.85 331.97,253.78 331.40,251.50 C330.83,249.22 331.22,249.78 329.90,247.80 C328.58,245.82 328.89,246.46 327.00,244.90 C325.11,243.34 325.85,243.80 323.60,242.60 C321.35,241.40 321.93,241.95 319.50,240.90 C317.07,239.85 317.66,240.51 315.50,239.10 C313.34,237.69 313.41,238.27 312.30,236.20Z"/></clipPath><linearGradient id="gba" gradientUnits="userSpaceOnUse" x1="339" y1="210" x2="346" y2="226.5"><stop offset="0" stop-color="#5cc8dc"/><stop offset="0.5" stop-color="#4e9ede"/><stop offset="0.85" stop-color="#3a68c8"/><stop offset="1" stop-color="#3340a8"/></linearGradient><radialGradient id="gwa" cx="0.45" cy="0.3" r="0.6"><stop offset="0" stop-color="#e23c18"/><stop offset="0.45" stop-color="#ee8a26"/><stop offset="1" stop-color="#f2c234"/></radialGradient><linearGradient id="gla" x1="0" y1="0" x2="1" y2="0"><stop offset="0" stop-color="#9ccc64"/><stop offset="0.3" stop-color="#8cc874"/><stop offset="0.7" stop-color="#52bcc4"/><stop offset="1" stop-color="#3c74cc"/></linearGradient></defs>
<path d="M312.30,236.20 C311.19,234.13 311.71,234.60 311.80,232.20 C311.89,229.80 311.67,230.45 312.60,228.20 C313.53,225.95 313.16,226.11 314.90,224.70 C316.64,223.29 316.15,224.01 318.40,223.50 C320.65,222.99 320.15,223.57 322.40,223.00 C324.65,222.43 323.65,223.55 325.90,221.60 C328.15,219.65 327.80,219.32 329.90,216.50 C332.00,213.68 330.95,214.21 332.90,212.20 C334.85,210.19 333.28,210.82 336.40,209.80 C339.52,208.78 339.16,209.10 343.30,208.80 C347.44,208.50 346.45,208.38 350.20,208.80 C353.95,209.22 353.40,208.85 355.80,210.20 C358.20,211.55 357.78,211.32 358.20,213.30 C358.62,215.28 358.34,214.94 357.20,216.80 C356.06,218.66 356.08,218.06 354.40,219.50 C352.72,220.94 353.25,220.55 351.60,221.60 C349.95,222.65 350.55,222.16 348.90,223.00 C347.25,223.84 347.78,223.56 346.10,224.40 C344.42,225.24 345.16,224.96 343.30,225.80 C341.44,226.64 341.97,226.57 339.90,227.20 C337.83,227.83 338.50,227.51 336.40,227.90 C334.30,228.29 334.76,227.90 332.90,228.50 C331.04,229.10 331.67,228.97 330.20,229.90 C328.73,230.83 328.48,229.92 328.00,231.60 C327.52,233.28 328.12,233.13 328.60,235.50 C329.08,237.87 328.91,237.19 329.60,239.50 C330.29,241.81 330.00,241.07 330.90,243.20 C331.80,245.33 331.31,245.37 332.60,246.60 C333.89,247.83 332.56,247.15 335.20,247.30 C337.84,247.45 337.71,246.74 341.40,247.10 C345.09,247.46 344.32,247.33 347.50,248.50 C350.68,249.67 349.69,249.41 352.00,251.00 C354.31,252.59 352.86,251.55 355.20,253.80 C357.54,256.05 357.94,256.19 359.80,258.50 C361.66,260.81 361.22,259.85 361.40,261.50 C361.58,263.15 361.12,262.83 360.40,264.00 C359.68,265.17 360.56,263.84 359.00,265.40 C357.44,266.96 358.20,267.13 355.20,269.20 C352.20,271.27 352.00,271.37 349.00,272.30 C346.00,273.23 347.48,272.99 345.20,272.30 C342.92,271.61 344.16,272.31 341.40,270.00 C338.64,267.69 338.55,267.60 336.00,264.60 C333.45,261.60 334.16,262.76 332.90,260.00 C331.64,257.24 332.25,257.95 331.80,255.40 C331.35,252.85 331.97,253.78 331.40,251.50 C330.83,249.22 331.22,249.78 329.90,247.80 C328.58,245.82 328.89,246.46 327.00,244.90 C325.11,243.34 325.85,243.80 323.60,242.60 C321.35,241.40 321.93,241.95 319.50,240.90 C317.07,239.85 317.66,240.51 315.50,239.10 C313.34,237.69 313.41,238.27 312.30,236.20Z" fill="#4aa6dc"/>
<g clip-path="url(#cma)">
<path d="M326.00,214.00 C329.33,208.33 327.33,209.67 334.00,207.00 C340.67,204.33 338.00,206.00 346.00,206.00 C354.00,206.00 353.00,204.67 358.00,207.00 C363.00,209.33 361.33,209.00 361.00,213.00 C360.67,217.00 361.33,214.67 357.00,219.00 C352.67,223.33 355.00,222.33 348.00,226.00 C341.00,229.67 343.00,227.67 336.00,230.00 C329.00,232.33 331.00,235.00 327.00,233.00 C323.00,231.00 324.33,230.33 324.00,224.00 C323.67,217.67 322.67,219.67 326.00,214.00Z" fill="url(#gba)"/>
<path d="M309.00,221.00 C310.87,217.67 312.00,219.90 316.00,219.50 C320.00,219.10 320.53,218.83 324.00,219.50 C327.47,220.17 327.13,219.20 329.00,222.00 C330.87,224.80 330.47,225.20 331.00,230.00 C331.53,234.80 331.27,235.20 331.00,240.00 C330.73,244.80 332.40,246.67 330.00,248.00 C327.60,249.33 326.53,246.87 322.00,245.00 C317.47,243.13 316.47,244.47 313.00,241.00 C309.53,237.53 310.07,237.33 309.00,232.00 C307.93,226.67 307.13,224.33 309.00,221.00Z" fill="url(#gla)"/>
<path d="M313.00,223.50 C314.00,221.50 315.33,222.17 318.00,222.50 C320.67,222.83 320.67,222.67 321.00,224.50 C321.33,226.33 321.00,226.67 319.00,228.00 C317.00,229.33 317.00,230.00 315.00,228.50 C313.00,227.00 312.00,225.50 313.00,223.50Z" fill="#e8a834" opacity="0.85"/>
<path d="M330.00,246.00 C333.67,240.07 334.67,245.20 342.00,246.20 C349.33,247.20 345.33,245.07 352.00,249.00 C358.67,252.93 358.67,252.00 362.00,258.00 C365.33,264.00 365.33,261.67 362.00,267.00 C358.67,272.33 359.33,272.00 352.00,274.00 C344.67,276.00 347.00,276.33 340.00,273.00 C333.00,269.67 334.33,273.00 331.00,264.00 C327.67,255.00 326.33,251.93 330.00,246.00Z" fill="url(#gwa)"/>
<path d="M331.00,249.00 C331.93,245.43 332.50,247.30 335.00,247.30 C337.50,247.30 336.33,246.77 338.50,249.00 C340.67,251.23 340.17,250.67 341.50,254.00 C342.83,257.33 343.17,255.83 342.50,259.00 C341.83,262.17 342.00,262.17 339.50,263.50 C337.00,264.83 337.43,264.83 335.00,263.00 C332.57,261.17 333.53,262.67 332.20,258.00 C330.87,253.33 330.07,252.57 331.00,249.00Z" fill="#92c864" opacity="0.9"/>
</g>
<path d="M312.30,236.20 C311.19,234.13 311.71,234.60 311.80,232.20 C311.89,229.80 311.67,230.45 312.60,228.20 C313.53,225.95 313.16,226.11 314.90,224.70 C316.64,223.29 316.15,224.01 318.40,223.50 C320.65,222.99 320.15,223.57 322.40,223.00 C324.65,222.43 323.65,223.55 325.90,221.60 C328.15,219.65 327.80,219.32 329.90,216.50 C332.00,213.68 330.95,214.21 332.90,212.20 C334.85,210.19 333.28,210.82 336.40,209.80 C339.52,208.78 339.16,209.10 343.30,208.80 C347.44,208.50 346.45,208.38 350.20,208.80 C353.95,209.22 353.40,208.85 355.80,210.20 C358.20,211.55 357.78,211.32 358.20,213.30 C358.62,215.28 358.34,214.94 357.20,216.80 C356.06,218.66 356.08,218.06 354.40,219.50 C352.72,220.94 353.25,220.55 351.60,221.60 C349.95,222.65 350.55,222.16 348.90,223.00 C347.25,223.84 347.78,223.56 346.10,224.40 C344.42,225.24 345.16,224.96 343.30,225.80 C341.44,226.64 341.97,226.57 339.90,227.20 C337.83,227.83 338.50,227.51 336.40,227.90 C334.30,228.29 334.76,227.90 332.90,228.50 C331.04,229.10 331.67,228.97 330.20,229.90 C328.73,230.83 328.48,229.92 328.00,231.60 C327.52,233.28 328.12,233.13 328.60,235.50 C329.08,237.87 328.91,237.19 329.60,239.50 C330.29,241.81 330.00,241.07 330.90,243.20 C331.80,245.33 331.31,245.37 332.60,246.60 C333.89,247.83 332.56,247.15 335.20,247.30 C337.84,247.45 337.71,246.74 341.40,247.10 C345.09,247.46 344.32,247.33 347.50,248.50 C350.68,249.67 349.69,249.41 352.00,251.00 C354.31,252.59 352.86,251.55 355.20,253.80 C357.54,256.05 357.94,256.19 359.80,258.50 C361.66,260.81 361.22,259.85 361.40,261.50 C361.58,263.15 361.12,262.83 360.40,264.00 C359.68,265.17 360.56,263.84 359.00,265.40 C357.44,266.96 358.20,267.13 355.20,269.20 C352.20,271.27 352.00,271.37 349.00,272.30 C346.00,273.23 347.48,272.99 345.20,272.30 C342.92,271.61 344.16,272.31 341.40,270.00 C338.64,267.69 338.55,267.60 336.00,264.60 C333.45,261.60 334.16,262.76 332.90,260.00 C331.64,257.24 332.25,257.95 331.80,255.40 C331.35,252.85 331.97,253.78 331.40,251.50 C330.83,249.22 331.22,249.78 329.90,247.80 C328.58,245.82 328.89,246.46 327.00,244.90 C325.11,243.34 325.85,243.80 323.60,242.60 C321.35,241.40 321.93,241.95 319.50,240.90 C317.07,239.85 317.66,240.51 315.50,239.10 C313.34,237.69 313.41,238.27 312.30,236.20Z" fill="none" stroke="#2d4f7c" stroke-width="0.7"/>
<path d="M335.20,247.60 C336.19,248.62 336.58,248.63 338.50,251.00 C340.42,253.37 340.49,252.95 341.60,255.50 C342.71,258.05 342.74,257.40 342.20,259.50 C341.66,261.60 341.66,261.15 339.80,262.50 C337.94,263.85 337.14,263.55 336.00,264.00" fill="none" stroke="#2d4f7c" stroke-width="0.55" opacity="0.85"/>
<path d="M337.50,228.20 C338.17,227.20 339.83,227.73 344.00,226.40 C348.17,225.07 346.67,225.73 350.00,224.20 C353.33,222.67 352.33,222.07 354.00,221.80 C355.67,221.53 355.67,221.93 355.00,223.40 C354.33,224.87 354.67,224.60 352.00,226.20 C349.33,227.80 350.33,227.13 347.00,228.20 C343.67,229.27 345.17,229.40 342.00,229.40 C338.83,229.40 336.83,229.20 337.50,228.20Z" fill="#6f8fda" stroke="#3a66b8" stroke-width="0.6"/>
<path d="M339.50,232.70 C340.83,231.85 341.93,232.29 345.00,232.40 C348.07,232.51 348.97,232.14 351.00,233.10 C353.03,234.06 352.31,234.29 352.60,236.00 C352.89,237.71 352.07,237.63 352.10,239.50 C352.13,241.37 352.81,241.13 352.70,243.00 C352.59,244.87 352.55,245.91 351.70,246.50 C350.85,247.09 351.02,246.35 349.50,245.20 C347.98,244.05 347.87,243.96 346.00,242.20 C344.13,240.44 344.10,240.36 342.50,238.60 C340.90,236.84 340.80,237.17 340.00,235.60 C339.20,234.03 338.17,233.55 339.50,232.70Z" fill="#9ccf6c" stroke="#3a66b8" stroke-width="0.7"/>
<circle cx="360.50" cy="228.40" r="2.5" fill="#3fa9cf"/>
<circle cx="363.60" cy="229.60" r="1.6" fill="#62c0d8"/>
<circle cx="362.60" cy="233.20" r="1.5" fill="#a6d4e8"/>
<path d="M355.40,233.0 L360.40,238.8 M358.40,236.4 L361.60,234.2" fill="none" stroke="#1c3f8c" stroke-width="1.1"/>
<defs><radialGradient id="gta" cx="0.62" cy="0.4" r="0.65"><stop offset="0" stop-color="#86cc9c"/><stop offset="0.6" stop-color="#76c8a8"/><stop offset="1" stop-color="#5ab4b8"/></radialGradient></defs>
<path d="M377.20,230.40 C378.04,228.45 377.78,228.76 380.00,227.50 C382.22,226.24 382.20,226.71 384.60,226.20 C387.00,225.69 385.78,225.65 388.00,225.80 C390.22,225.95 389.90,225.89 392.00,226.70 C394.10,227.51 393.56,227.06 395.00,228.50 C396.44,229.94 395.84,229.40 396.80,231.50 C397.76,233.60 397.72,232.98 398.20,235.50 C398.68,238.02 398.52,237.35 398.40,239.90 C398.28,242.45 398.28,241.78 397.80,244.00 C397.32,246.22 397.94,245.56 396.80,247.30 C395.66,249.04 395.74,248.51 394.00,249.80 C392.26,251.09 393.10,251.06 391.00,251.60 C388.90,252.14 389.22,251.93 387.00,251.60 C384.78,251.27 385.40,251.34 383.60,250.50 C381.80,249.66 381.96,249.76 381.00,248.80 C380.04,247.84 380.82,248.59 380.40,247.30 C379.98,246.01 379.93,246.09 379.60,244.50 C379.27,242.91 379.63,243.50 379.30,242.00 C378.97,240.50 379.04,241.00 378.50,239.50 C377.96,238.00 377.89,238.65 377.50,237.00 C377.11,235.35 377.29,235.98 377.20,234.00 C377.11,232.02 376.36,232.35 377.20,230.40Z" fill="url(#gta)" stroke="#3e62be" stroke-width="0.9"/>
<path d="M368.20,239.40 C368.95,238.89 369.26,239.32 371.00,239.80 C372.74,240.28 372.05,240.10 374.00,241.00 C375.95,241.90 375.58,241.54 377.50,242.80 C379.42,244.06 379.47,243.79 380.40,245.20 C381.33,246.61 380.60,246.24 380.60,247.50 C380.60,248.76 381.48,248.89 380.40,249.40 C379.32,249.91 378.92,249.50 377.00,249.20 C375.08,248.90 375.65,249.21 374.00,248.40 C372.35,247.59 372.76,247.76 371.50,246.50 C370.24,245.24 370.70,245.70 369.80,244.20 C368.90,242.70 368.98,242.94 368.50,241.50 C368.02,240.06 367.45,239.91 368.20,239.40Z" fill="#49b3b8" stroke="#3e62be" stroke-width="0.6"/>
<defs><clipPath id="cmb"><path d="M416.30,236.20 C415.19,234.13 415.71,234.60 415.80,232.20 C415.89,229.80 415.67,230.45 416.60,228.20 C417.53,225.95 417.16,226.11 418.90,224.70 C420.64,223.29 420.15,224.01 422.40,223.50 C424.65,222.99 424.15,223.57 426.40,223.00 C428.65,222.43 427.65,223.55 429.90,221.60 C432.15,219.65 431.80,219.32 433.90,216.50 C436.00,213.68 434.95,214.21 436.90,212.20 C438.85,210.19 437.28,210.82 440.40,209.80 C443.52,208.78 443.16,209.10 447.30,208.80 C451.44,208.50 450.45,208.38 454.20,208.80 C457.95,209.22 457.40,208.85 459.80,210.20 C462.20,211.55 461.78,211.32 462.20,213.30 C462.62,215.28 462.34,214.94 461.20,216.80 C460.06,218.66 460.08,218.06 458.40,219.50 C456.72,220.94 457.25,220.55 455.60,221.60 C453.95,222.65 454.55,222.16 452.90,223.00 C451.25,223.84 451.78,223.56 450.10,224.40 C448.42,225.24 449.16,224.96 447.30,225.80 C445.44,226.64 445.97,226.57 443.90,227.20 C441.83,227.83 442.50,227.51 440.40,227.90 C438.30,228.29 438.76,227.90 436.90,228.50 C435.04,229.10 435.67,228.97 434.20,229.90 C432.73,230.83 432.48,229.92 432.00,231.60 C431.52,233.28 432.12,233.13 432.60,235.50 C433.08,237.87 432.91,237.19 433.60,239.50 C434.29,241.81 434.00,241.07 434.90,243.20 C435.80,245.33 435.31,245.37 436.60,246.60 C437.89,247.83 436.56,247.15 439.20,247.30 C441.84,247.45 441.71,246.74 445.40,247.10 C449.09,247.46 448.32,247.33 451.50,248.50 C454.68,249.67 453.69,249.41 456.00,251.00 C458.31,252.59 456.86,251.55 459.20,253.80 C461.54,256.05 461.94,256.19 463.80,258.50 C465.66,260.81 465.22,259.85 465.40,261.50 C465.58,263.15 465.12,262.83 464.40,264.00 C463.68,265.17 464.56,263.84 463.00,265.40 C461.44,266.96 462.20,267.13 459.20,269.20 C456.20,271.27 456.00,271.37 453.00,272.30 C450.00,273.23 451.48,272.99 449.20,272.30 C446.92,271.61 448.16,272.31 445.40,270.00 C442.64,267.69 442.55,267.60 440.00,264.60 C437.45,261.60 438.16,262.76 436.90,260.00 C435.64,257.24 436.25,257.95 435.80,255.40 C435.35,252.85 435.97,253.78 435.40,251.50 C434.83,249.22 435.22,249.78 433.90,247.80 C432.58,245.82 432.89,246.46 431.00,244.90 C429.11,243.34 429.85,243.80 427.60,242.60 C425.35,241.40 425.93,241.95 423.50,240.90 C421.07,239.85 421.66,240.51 419.50,239.10 C417.34,237.69 417.41,238.27 416.30,236.20Z"/></clipPath><linearGradient id="gbb" gradientUnits="userSpaceOnUse" x1="443" y1="210" x2="450" y2="226.5"><stop offset="0" stop-color="#a8d45a"/><stop offset="0.5" stop-color="#62bcc4"/><stop offset="0.85" stop-color="#3c7ccc"/><stop offset="1" stop-color="#2f40a8"/></linearGradient><radialGradient id="gwb" cx="0.62" cy="0.45" r="0.6"><stop offset="0" stop-color="#d4d84a"/><stop offset="0.45" stop-color="#a6d068"/><stop offset="1" stop-color="#5cb8cc"/></radialGradient><linearGradient id="glb" x1="0" y1="0" x2="1" y2="0"><stop offset="0" stop-color="#e0401a"/><stop offset="0.3" stop-color="#e8c03a"/><stop offset="0.7" stop-color="#9ccc6c"/><stop offset="1" stop-color="#4ab0cc"/></linearGradient></defs>
<path d="M416.30,236.20 C415.19,234.13 415.71,234.60 415.80,232.20 C415.89,229.80 415.67,230.45 416.60,228.20 C417.53,225.95 417.16,226.11 418.90,224.70 C420.64,223.29 420.15,224.01 422.40,223.50 C424.65,222.99 424.15,223.57 426.40,223.00 C428.65,222.43 427.65,223.55 429.90,221.60 C432.15,219.65 431.80,219.32 433.90,216.50 C436.00,213.68 434.95,214.21 436.90,212.20 C438.85,210.19 437.28,210.82 440.40,209.80 C443.52,208.78 443.16,209.10 447.30,208.80 C451.44,208.50 450.45,208.38 454.20,208.80 C457.95,209.22 457.40,208.85 459.80,210.20 C462.20,211.55 461.78,211.32 462.20,213.30 C462.62,215.28 462.34,214.94 461.20,216.80 C460.06,218.66 460.08,218.06 458.40,219.50 C456.72,220.94 457.25,220.55 455.60,221.60 C453.95,222.65 454.55,222.16 452.90,223.00 C451.25,223.84 451.78,223.56 450.10,224.40 C448.42,225.24 449.16,224.96 447.30,225.80 C445.44,226.64 445.97,226.57 443.90,227.20 C441.83,227.83 442.50,227.51 440.40,227.90 C438.30,228.29 438.76,227.90 436.90,228.50 C435.04,229.10 435.67,228.97 434.20,229.90 C432.73,230.83 432.48,229.92 432.00,231.60 C431.52,233.28 432.12,233.13 432.60,235.50 C433.08,237.87 432.91,237.19 433.60,239.50 C434.29,241.81 434.00,241.07 434.90,243.20 C435.80,245.33 435.31,245.37 436.60,246.60 C437.89,247.83 436.56,247.15 439.20,247.30 C441.84,247.45 441.71,246.74 445.40,247.10 C449.09,247.46 448.32,247.33 451.50,248.50 C454.68,249.67 453.69,249.41 456.00,251.00 C458.31,252.59 456.86,251.55 459.20,253.80 C461.54,256.05 461.94,256.19 463.80,258.50 C465.66,260.81 465.22,259.85 465.40,261.50 C465.58,263.15 465.12,262.83 464.40,264.00 C463.68,265.17 464.56,263.84 463.00,265.40 C461.44,266.96 462.20,267.13 459.20,269.20 C456.20,271.27 456.00,271.37 453.00,272.30 C450.00,273.23 451.48,272.99 449.20,272.30 C446.92,271.61 448.16,272.31 445.40,270.00 C442.64,267.69 442.55,267.60 440.00,264.60 C437.45,261.60 438.16,262.76 436.90,260.00 C435.64,257.24 436.25,257.95 435.80,255.40 C435.35,252.85 435.97,253.78 435.40,251.50 C434.83,249.22 435.22,249.78 433.90,247.80 C432.58,245.82 432.89,246.46 431.00,244.90 C429.11,243.34 429.85,243.80 427.60,242.60 C425.35,241.40 425.93,241.95 423.50,240.90 C421.07,239.85 421.66,240.51 419.50,239.10 C417.34,237.69 417.41,238.27 416.30,236.20Z" fill="#5cb8d0"/>
<g clip-path="url(#cmb)">
<path d="M430.00,214.00 C433.33,208.33 431.33,209.67 438.00,207.00 C444.67,204.33 442.00,206.00 450.00,206.00 C458.00,206.00 457.00,204.67 462.00,207.00 C467.00,209.33 465.33,209.00 465.00,213.00 C464.67,217.00 465.33,214.67 461.00,219.00 C456.67,223.33 459.00,222.33 452.00,226.00 C445.00,229.67 447.00,227.67 440.00,230.00 C433.00,232.33 435.00,235.00 431.00,233.00 C427.00,231.00 428.33,230.33 428.00,224.00 C427.67,217.67 426.67,219.67 430.00,214.00Z" fill="url(#gbb)"/>
<path d="M413.00,221.00 C414.87,217.67 416.00,219.90 420.00,219.50 C424.00,219.10 424.53,218.83 428.00,219.50 C431.47,220.17 431.13,219.20 433.00,222.00 C434.87,224.80 434.47,225.20 435.00,230.00 C435.53,234.80 435.27,235.20 435.00,240.00 C434.73,244.80 436.40,246.67 434.00,248.00 C431.60,249.33 430.53,246.87 426.00,245.00 C421.47,243.13 420.47,244.47 417.00,241.00 C413.53,237.53 414.07,237.33 413.00,232.00 C411.93,226.67 411.13,224.33 413.00,221.00Z" fill="url(#glb)"/>
<path d="M417.00,223.50 C418.00,221.50 419.33,222.17 422.00,222.50 C424.67,222.83 424.67,222.67 425.00,224.50 C425.33,226.33 425.00,226.67 423.00,228.00 C421.00,229.33 421.00,230.00 419.00,228.50 C417.00,227.00 416.00,225.50 417.00,223.50Z" fill="#e4501c" opacity="0.85"/>
<path d="M434.00,246.00 C437.67,240.07 438.67,245.20 446.00,246.20 C453.33,247.20 449.33,245.07 456.00,249.00 C462.67,252.93 462.67,252.00 466.00,258.00 C469.33,264.00 469.33,261.67 466.00,267.00 C462.67,272.33 463.33,272.00 456.00,274.00 C448.67,276.00 451.00,276.33 444.00,273.00 C437.00,269.67 438.33,273.00 435.00,264.00 C431.67,255.00 430.33,251.93 434.00,246.00Z" fill="url(#gwb)"/>
<path d="M435.00,249.00 C435.93,245.43 436.50,247.30 439.00,247.30 C441.50,247.30 440.33,246.77 442.50,249.00 C444.67,251.23 444.17,250.67 445.50,254.00 C446.83,257.33 447.17,255.83 446.50,259.00 C445.83,262.17 446.00,262.17 443.50,263.50 C441.00,264.83 441.43,264.83 439.00,263.00 C436.57,261.17 437.53,262.67 436.20,258.00 C434.87,253.33 434.07,252.57 435.00,249.00Z" fill="#4aa8d8" opacity="0.9"/>
</g>
<path d="M416.30,236.20 C415.19,234.13 415.71,234.60 415.80,232.20 C415.89,229.80 415.67,230.45 416.60,228.20 C417.53,225.95 417.16,226.11 418.90,224.70 C420.64,223.29 420.15,224.01 422.40,223.50 C424.65,222.99 424.15,223.57 426.40,223.00 C428.65,222.43 427.65,223.55 429.90,221.60 C432.15,219.65 431.80,219.32 433.90,216.50 C436.00,213.68 434.95,214.21 436.90,212.20 C438.85,210.19 437.28,210.82 440.40,209.80 C443.52,208.78 443.16,209.10 447.30,208.80 C451.44,208.50 450.45,208.38 454.20,208.80 C457.95,209.22 457.40,208.85 459.80,210.20 C462.20,211.55 461.78,211.32 462.20,213.30 C462.62,215.28 462.34,214.94 461.20,216.80 C460.06,218.66 460.08,218.06 458.40,219.50 C456.72,220.94 457.25,220.55 455.60,221.60 C453.95,222.65 454.55,222.16 452.90,223.00 C451.25,223.84 451.78,223.56 450.10,224.40 C448.42,225.24 449.16,224.96 447.30,225.80 C445.44,226.64 445.97,226.57 443.90,227.20 C441.83,227.83 442.50,227.51 440.40,227.90 C438.30,228.29 438.76,227.90 436.90,228.50 C435.04,229.10 435.67,228.97 434.20,229.90 C432.73,230.83 432.48,229.92 432.00,231.60 C431.52,233.28 432.12,233.13 432.60,235.50 C433.08,237.87 432.91,237.19 433.60,239.50 C434.29,241.81 434.00,241.07 434.90,243.20 C435.80,245.33 435.31,245.37 436.60,246.60 C437.89,247.83 436.56,247.15 439.20,247.30 C441.84,247.45 441.71,246.74 445.40,247.10 C449.09,247.46 448.32,247.33 451.50,248.50 C454.68,249.67 453.69,249.41 456.00,251.00 C458.31,252.59 456.86,251.55 459.20,253.80 C461.54,256.05 461.94,256.19 463.80,258.50 C465.66,260.81 465.22,259.85 465.40,261.50 C465.58,263.15 465.12,262.83 464.40,264.00 C463.68,265.17 464.56,263.84 463.00,265.40 C461.44,266.96 462.20,267.13 459.20,269.20 C456.20,271.27 456.00,271.37 453.00,272.30 C450.00,273.23 451.48,272.99 449.20,272.30 C446.92,271.61 448.16,272.31 445.40,270.00 C442.64,267.69 442.55,267.60 440.00,264.60 C437.45,261.60 438.16,262.76 436.90,260.00 C435.64,257.24 436.25,257.95 435.80,255.40 C435.35,252.85 435.97,253.78 435.40,251.50 C434.83,249.22 435.22,249.78 433.90,247.80 C432.58,245.82 432.89,246.46 431.00,244.90 C429.11,243.34 429.85,243.80 427.60,242.60 C425.35,241.40 425.93,241.95 423.50,240.90 C421.07,239.85 421.66,240.51 419.50,239.10 C417.34,237.69 417.41,238.27 416.30,236.20Z" fill="none" stroke="#2d4f7c" stroke-width="0.7"/>
<path d="M439.20,247.60 C440.19,248.62 440.58,248.63 442.50,251.00 C444.42,253.37 444.49,252.95 445.60,255.50 C446.71,258.05 446.74,257.40 446.20,259.50 C445.66,261.60 445.66,261.15 443.80,262.50 C441.94,263.85 441.14,263.55 440.00,264.00" fill="none" stroke="#2d4f7c" stroke-width="0.55" opacity="0.85"/>
<path d="M441.50,228.20 C442.17,227.20 443.83,227.73 448.00,226.40 C452.17,225.07 450.67,225.73 454.00,224.20 C457.33,222.67 456.33,222.07 458.00,221.80 C459.67,221.53 459.67,221.93 459.00,223.40 C458.33,224.87 458.67,224.60 456.00,226.20 C453.33,227.80 454.33,227.13 451.00,228.20 C447.67,229.27 449.17,229.40 446.00,229.40 C442.83,229.40 440.83,229.20 441.50,228.20Z" fill="#5a86d4" stroke="#2f46a8" stroke-width="0.6"/>
<path d="M443.50,232.70 C444.83,231.85 445.93,232.29 449.00,232.40 C452.07,232.51 452.97,232.14 455.00,233.10 C457.03,234.06 456.31,234.29 456.60,236.00 C456.89,237.71 456.07,237.63 456.10,239.50 C456.13,241.37 456.81,241.13 456.70,243.00 C456.59,244.87 456.55,245.91 455.70,246.50 C454.85,247.09 455.02,246.35 453.50,245.20 C451.98,244.05 451.87,243.96 450.00,242.20 C448.13,240.44 448.10,240.36 446.50,238.60 C444.90,236.84 444.80,237.17 444.00,235.60 C443.20,234.03 442.17,233.55 443.50,232.70Z" fill="#4b98d8" stroke="#2f46a8" stroke-width="0.7"/>
<circle cx="464.50" cy="228.40" r="2.5" fill="#3a7ed0"/>
<circle cx="467.60" cy="229.60" r="1.6" fill="#4b9ad8"/>
<circle cx="466.60" cy="233.20" r="1.5" fill="#6a9ee0"/>
<path d="M459.40,233.0 L464.40,238.8 M462.40,236.4 L465.60,234.2" fill="none" stroke="#1e2f96" stroke-width="1.1"/>
<defs><radialGradient id="gtb" cx="0.62" cy="0.4" r="0.65"><stop offset="0" stop-color="#4a8edc"/><stop offset="0.6" stop-color="#3a5cc4"/><stop offset="1" stop-color="#3034a4"/></radialGradient></defs>
<path d="M481.20,230.40 C482.04,228.45 481.78,228.76 484.00,227.50 C486.22,226.24 486.20,226.71 488.60,226.20 C491.00,225.69 489.78,225.65 492.00,225.80 C494.22,225.95 493.90,225.89 496.00,226.70 C498.10,227.51 497.56,227.06 499.00,228.50 C500.44,229.94 499.84,229.40 500.80,231.50 C501.76,233.60 501.72,232.98 502.20,235.50 C502.68,238.02 502.52,237.35 502.40,239.90 C502.28,242.45 502.28,241.78 501.80,244.00 C501.32,246.22 501.94,245.56 500.80,247.30 C499.66,249.04 499.74,248.51 498.00,249.80 C496.26,251.09 497.10,251.06 495.00,251.60 C492.90,252.14 493.22,251.93 491.00,251.60 C488.78,251.27 489.40,251.34 487.60,250.50 C485.80,249.66 485.96,249.76 485.00,248.80 C484.04,247.84 484.82,248.59 484.40,247.30 C483.98,246.01 483.93,246.09 483.60,244.50 C483.27,242.91 483.63,243.50 483.30,242.00 C482.97,240.50 483.04,241.00 482.50,239.50 C481.96,238.00 481.89,238.65 481.50,237.00 C481.11,235.35 481.29,235.98 481.20,234.00 C481.11,232.02 480.36,232.35 481.20,230.40Z" fill="url(#gtb)" stroke="#2a2e98" stroke-width="0.9"/>
<path d="M472.20,239.40 C472.95,238.89 473.26,239.32 475.00,239.80 C476.74,240.28 476.05,240.10 478.00,241.00 C479.95,241.90 479.58,241.54 481.50,242.80 C483.42,244.06 483.47,243.79 484.40,245.20 C485.33,246.61 484.60,246.24 484.60,247.50 C484.60,248.76 485.48,248.89 484.40,249.40 C483.32,249.91 482.92,249.50 481.00,249.20 C479.08,248.90 479.65,249.21 478.00,248.40 C476.35,247.59 476.76,247.76 475.50,246.50 C474.24,245.24 474.70,245.70 473.80,244.20 C472.90,242.70 472.98,242.94 472.50,241.50 C472.02,240.06 471.45,239.91 472.20,239.40Z" fill="#3558c4" stroke="#2a2e98" stroke-width="0.6"/>
<text x="304.70" y="221.60" font-size="7.0" fill="#7fa2c2" textLength="16.80" lengthAdjust="spacingAndGlyphs" stroke="#7fa2c2" stroke-width="0.18">GCBC</text>
<text x="301.70" y="258.60" font-size="7.0" fill="#c2d3e2" textLength="26.00" lengthAdjust="spacingAndGlyphs" stroke="#c2d3e2" stroke-width="0.18">Act. NBC</text>
<text x="355.20" y="253.60" font-size="7.0" fill="#3a5278" textLength="13.40" lengthAdjust="spacingAndGlyphs" stroke="#3a5278" stroke-width="0.18">MBC</text>
<text x="347.00" y="231.60" font-size="7.0" fill="#8aa4c6" textLength="8.00" lengthAdjust="spacingAndGlyphs" stroke="#8aa4c6" stroke-width="0.18">PC</text>
<text x="379.40" y="258.60" font-size="7.0" fill="#c8d6e4" textLength="17.00" lengthAdjust="spacingAndGlyphs" stroke="#c8d6e4" stroke-width="0.18">T-cells</text>
<text x="341.00" y="279.60" font-size="6.8" fill="#d0d8e2" textLength="12.80" lengthAdjust="spacingAndGlyphs" stroke="#d0d8e2" stroke-width="0.18">NBC</text>
<text x="365.00" y="209.40" font-size="6.8" fill="#a0a0a0" textLength="45.50" lengthAdjust="spacingAndGlyphs" stroke="#a0a0a0" stroke-width="0.18">Myeloid / FDC /</text>
<text x="365.00" y="216.90" font-size="6.8" fill="#a0a0a0" textLength="28.50" lengthAdjust="spacingAndGlyphs" stroke="#a0a0a0" stroke-width="0.18">Mast cells</text>
<line x1="373.50" y1="219.80" x2="369.40" y2="223.90" stroke="#231f20" stroke-width="0.8"/>
<path d="M368.20,225.1 L368.80,222.5 L370.80,224.5 Z" fill="#231f20"/>
<text x="408.20" y="221.60" font-size="7.0" fill="#7fa2c2" textLength="16.80" lengthAdjust="spacingAndGlyphs" stroke="#7fa2c2" stroke-width="0.18">GCBC</text>
<text x="405.20" y="258.60" font-size="7.0" fill="#c2d3e2" textLength="26.00" lengthAdjust="spacingAndGlyphs" stroke="#c2d3e2" stroke-width="0.18">Act. NBC</text>
<text x="458.70" y="253.60" font-size="7.0" fill="#3a5278" textLength="13.40" lengthAdjust="spacingAndGlyphs" stroke="#3a5278" stroke-width="0.18">MBC</text>
<text x="450.50" y="231.60" font-size="7.0" fill="#8aa4c6" textLength="8.00" lengthAdjust="spacingAndGlyphs" stroke="#8aa4c6" stroke-width="0.18">PC</text>
<text x="482.90" y="258.60" font-size="7.0" fill="#c8d6e4" textLength="17.00" lengthAdjust="spacingAndGlyphs" stroke="#c8d6e4" stroke-width="0.18">T-cells</text>
<text x="444.50" y="279.60" font-size="6.8" fill="#d0d8e2" textLength="12.80" lengthAdjust="spacingAndGlyphs" stroke="#d0d8e2" stroke-width="0.18">NBC</text>
<text x="468.50" y="209.40" font-size="6.8" fill="#a0a0a0" textLength="45.50" lengthAdjust="spacingAndGlyphs" stroke="#a0a0a0" stroke-width="0.18">Myeloid / FDC /</text>
<text x="468.50" y="216.90" font-size="6.8" fill="#a0a0a0" textLength="28.50" lengthAdjust="spacingAndGlyphs" stroke="#a0a0a0" stroke-width="0.18">Mast cells</text>
<line x1="477.00" y1="219.80" x2="472.90" y2="223.90" stroke="#231f20" stroke-width="0.8"/>
<path d="M471.70,225.1 L472.30,222.5 L474.30,224.5 Z" fill="#231f20"/>
<defs><linearGradient id="gE" x1="0" y1="0" x2="1" y2="0"><stop offset="0" stop-color="#1f1767"/><stop offset="0.15" stop-color="#2a3aa2"/><stop offset="0.3" stop-color="#3282d0"/><stop offset="0.42" stop-color="#52bde0"/><stop offset="0.52" stop-color="#8dd3a0"/><stop offset="0.62" stop-color="#e2e244"/><stop offset="0.72" stop-color="#f2b232"/><stop offset="0.82" stop-color="#ef6f22"/><stop offset="0.92" stop-color="#d22414"/><stop offset="1" stop-color="#a3001a"/></linearGradient></defs>
<rect x="377.30" y="284.90" width="52.70" height="4.60" fill="url(#gE)"/>
<text x="365.20" y="289.40" font-size="7.2" textLength="10.00" lengthAdjust="spacingAndGlyphs" stroke="#231f20" stroke-width="0.18">Min</text>
<text x="432.30" y="289.40" font-size="7.2" textLength="12.10" lengthAdjust="spacingAndGlyphs" stroke="#231f20" stroke-width="0.18">Max</text>
<text x="403.80" y="298.00" font-size="7.0" text-anchor="middle" textLength="50.20" lengthAdjust="spacingAndGlyphs" stroke="#231f20" stroke-width="0.18">Enrichment Score</text>
<text x="7.40" y="325.80" font-size="10.6" font-weight="bold">C</text>
<text x="107.60" y="325.00" font-size="7.8" text-anchor="middle" textLength="67.70" lengthAdjust="spacingAndGlyphs">FL malignant cells</text>
<path d="M74.30,355.50 C74.90,353.91 75.89,354.35 80.00,354.50 C84.11,354.65 82.90,355.70 88.00,356.00 C93.10,356.30 92.20,355.20 97.00,355.50 C101.80,355.80 100.10,355.20 104.00,357.00 C107.90,358.80 107.15,358.65 110.00,361.50 C112.85,364.35 112.15,363.05 113.50,366.50 C114.85,369.95 114.20,369.70 114.50,373.00 C114.80,376.30 113.45,376.15 114.50,377.50 C115.55,378.85 115.90,376.60 118.00,377.50 C120.10,378.40 121.80,378.55 121.50,380.50 C121.20,382.45 121.05,382.65 117.00,384.00 C112.95,385.35 112.50,384.40 108.00,385.00 C103.50,385.60 105.30,384.95 102.00,386.00 C98.70,387.05 99.70,386.25 97.00,388.50 C94.30,390.75 95.55,391.61 93.00,393.50 C90.45,395.39 91.20,395.40 88.50,394.80 C85.80,394.20 87.15,393.69 84.00,391.50 C80.85,389.31 81.15,390.05 78.00,387.50 C74.85,384.95 76.65,386.00 73.50,383.00 C70.35,380.00 69.90,380.65 67.50,377.50 C65.10,374.35 65.35,374.60 65.50,372.50 C65.65,370.40 65.75,371.25 68.00,370.50 C70.25,369.75 69.70,370.75 73.00,370.00 C76.30,369.25 75.70,369.65 79.00,368.00 C82.30,366.35 82.50,366.60 84.00,364.50 C85.50,362.40 85.80,362.41 84.00,361.00 C82.20,359.59 80.91,361.45 78.00,359.80 C75.09,358.15 73.70,357.09 74.30,355.50Z" fill="#e6dfe6"/>
<path d="M88.00,336.50 C87.70,335.27 88.20,335.19 90.00,334.50 C91.80,333.81 91.90,334.05 94.00,334.20 C96.10,334.35 94.96,334.61 97.00,335.00 C99.04,335.39 99.90,334.75 100.80,335.50 C101.70,336.25 101.44,336.51 100.00,337.50 C98.56,338.49 98.70,338.47 96.00,338.80 C93.30,339.13 93.40,339.29 91.00,338.60 C88.60,337.91 88.30,337.73 88.00,336.50Z" fill="#c9c9c9"/>
<path d="M111.20,351.00 C111.50,349.50 111.76,350.04 115.00,349.50 C118.24,348.96 117.50,349.05 122.00,349.20 C126.50,349.35 126.10,349.31 130.00,350.00 C133.90,350.69 133.05,350.45 135.00,351.50 C136.95,352.55 136.80,352.30 136.50,353.50 C136.20,354.70 136.55,354.69 134.00,355.50 C131.45,356.31 132.20,356.11 128.00,356.20 C123.80,356.29 124.20,356.31 120.00,355.80 C115.80,355.29 116.64,355.94 114.00,354.50 C111.36,353.06 110.90,352.50 111.20,351.00Z" fill="#bd9792"/>
<path d="M98.00,380.00 C99.80,378.50 101.20,379.55 106.00,378.50 C110.80,377.45 110.10,376.65 114.00,376.50 C117.90,376.35 116.60,376.80 119.00,378.00 C121.40,379.20 122.60,378.85 122.00,380.50 C121.40,382.15 121.20,382.30 117.00,383.50 C112.80,384.70 113.10,384.50 108.00,384.50 C102.90,384.50 103.00,384.85 100.00,383.50 C97.00,382.15 96.20,381.50 98.00,380.00Z" fill="#f2a9a4"/>
<path d="M85.00,364.00 C85.60,361.90 86.70,362.65 90.00,361.00 C93.30,359.35 92.40,360.00 96.00,358.50 C99.60,357.00 98.70,356.60 102.00,356.00 C105.30,355.40 104.60,355.30 107.00,356.50 C109.40,357.70 109.70,357.75 110.00,360.00 C110.30,362.25 110.70,362.20 108.00,364.00 C105.30,365.80 105.20,365.10 101.00,366.00 C96.80,366.90 97.90,366.40 94.00,367.00 C90.10,367.60 90.70,368.90 88.00,368.00 C85.30,367.10 84.40,366.10 85.00,364.00Z" fill="#d9cfc9"/>
<path d="M88.00,366.00 C89.35,364.05 89.30,364.55 92.00,363.50 C94.70,362.45 93.70,362.80 97.00,362.50 C100.30,362.20 99.70,362.20 103.00,362.50 C106.30,362.80 105.30,362.60 108.00,363.50 C110.70,364.40 110.26,363.85 112.00,365.50 C113.74,367.15 113.20,366.45 113.80,369.00 C114.40,371.55 114.09,371.00 114.00,374.00 C113.91,377.00 114.40,376.30 113.50,379.00 C112.60,381.70 113.55,381.05 111.00,383.00 C108.45,384.95 109.20,384.60 105.00,385.50 C100.80,386.40 101.20,386.30 97.00,386.00 C92.80,385.70 93.70,386.00 91.00,384.50 C88.30,383.00 89.05,383.55 88.00,381.00 C86.95,378.45 87.65,379.30 87.50,376.00 C87.35,372.70 87.35,373.00 87.50,370.00 C87.65,367.00 86.65,367.95 88.00,366.00Z" fill="#a3dbe6"/>
<path d="M65.80,372.50 C66.10,371.30 66.14,371.30 68.00,371.00 C69.86,370.70 69.30,370.75 72.00,371.50 C74.70,372.25 74.30,372.30 77.00,373.50 C79.70,374.70 79.17,374.15 81.00,375.50 C82.83,376.85 82.80,376.50 83.10,378.00 C83.40,379.50 83.23,379.30 82.00,380.50 C80.77,381.70 81.10,382.00 79.00,382.00 C76.90,382.00 77.70,381.85 75.00,380.50 C72.30,379.15 72.40,379.15 70.00,377.50 C67.60,375.85 68.26,376.50 67.00,375.00 C65.74,373.50 65.50,373.70 65.80,372.50Z" fill="#b1c8e8"/>
<path d="M82.00,372.00 C82.75,370.35 83.29,371.20 85.00,371.50 C86.71,371.80 86.95,371.50 87.70,373.00 C88.45,374.50 88.31,374.85 87.50,376.50 C86.69,378.15 86.50,378.35 85.00,378.50 C83.50,378.65 83.40,378.95 82.50,377.00 C81.60,375.05 81.25,373.65 82.00,372.00Z" fill="#ccce7e"/>
<path d="M73.80,381.00 C74.70,380.10 74.94,380.35 78.00,380.50 C81.06,380.65 80.40,380.60 84.00,381.50 C87.60,382.40 86.82,382.15 90.00,383.50 C93.18,384.85 93.70,384.35 94.60,386.00 C95.50,387.65 94.38,387.20 93.00,389.00 C91.62,390.80 91.26,390.65 90.00,392.00 C88.74,393.35 90.00,393.65 88.80,393.50 C87.60,393.35 87.74,393.00 86.00,391.50 C84.26,390.00 85.40,390.30 83.00,388.50 C80.60,386.70 80.40,387.00 78.00,385.50 C75.60,384.00 76.26,384.85 75.00,383.50 C73.74,382.15 72.90,381.90 73.80,381.00Z" fill="#b9a2bd"/>
<path d="M74.40,356.50 C75.00,355.45 75.02,355.25 77.00,354.80 C78.98,354.35 78.90,354.58 81.00,355.00 C83.10,355.42 81.90,355.75 84.00,356.20 C86.10,356.65 85.60,356.50 88.00,356.50 C90.40,356.50 90.35,356.05 92.00,356.20 C93.65,356.35 93.50,356.40 93.50,357.00 C93.50,357.60 93.95,357.72 92.00,358.20 C90.05,358.68 89.40,358.24 87.00,358.60 C84.60,358.96 85.50,358.80 84.00,359.40 C82.50,360.00 83.80,360.48 82.00,360.60 C80.20,360.72 80.10,360.49 78.00,359.80 C75.90,359.11 76.08,359.29 75.00,358.30 C73.92,357.31 73.80,357.55 74.40,356.50Z" fill="#1fbccd"/>
<path d="M118.00,372.50 C118.75,371.00 118.90,370.65 121.00,369.00 C123.10,367.35 122.60,367.75 125.00,367.00 C127.40,366.25 127.26,366.20 129.00,366.50 C130.74,366.80 130.65,366.50 130.80,368.00 C130.95,369.50 130.94,369.76 129.50,371.50 C128.06,373.24 128.40,372.87 126.00,373.80 C123.60,374.73 123.75,374.54 121.50,374.60 C119.25,374.66 119.55,374.63 118.50,374.00 C117.45,373.37 117.25,374.00 118.00,372.50Z" fill="#31a33a"/>
<path d="M119.20,384.00 C120.25,382.71 120.36,383.00 123.00,382.70 C125.64,382.40 125.30,382.61 128.00,383.00 C130.70,383.39 130.95,382.50 132.00,384.00 C133.05,385.50 132.40,385.90 131.50,388.00 C130.60,390.10 131.25,389.83 129.00,391.00 C126.75,392.17 126.70,392.05 124.00,391.90 C121.30,391.75 121.35,391.97 120.00,390.50 C118.65,389.03 119.74,388.95 119.50,387.00 C119.26,385.05 118.15,385.29 119.20,384.00Z" fill="#d62a2a"/>
<path d="M137.70,379.00 C138.30,377.38 138.81,377.96 141.00,377.60 C143.19,377.24 142.90,377.23 145.00,377.80 C147.10,378.37 147.25,377.94 148.00,379.50 C148.75,381.06 148.25,380.99 147.50,383.00 C146.75,385.01 147.15,385.45 145.50,386.20 C143.85,386.95 143.95,386.46 142.00,385.50 C140.05,384.54 140.29,384.95 139.00,383.00 C137.71,381.05 137.10,380.62 137.70,379.00Z" fill="#9fcf8c"/>
<path d="M160.80,384.00 C161.25,382.35 161.44,382.44 163.00,381.00 C164.56,379.56 164.20,379.50 166.00,379.20 C167.80,378.90 167.80,378.86 169.00,380.00 C170.20,381.14 170.15,381.20 170.00,383.00 C169.85,384.80 169.70,384.35 168.50,386.00 C167.30,387.65 167.65,387.90 166.00,388.50 C164.35,389.10 164.35,388.60 163.00,388.00 C161.65,387.40 162.16,387.70 161.50,386.50 C160.84,385.30 160.35,385.65 160.80,384.00Z" fill="#2273b6"/>
<path d="M111.20,401.00 C111.80,399.56 111.66,399.86 114.00,399.20 C116.34,398.54 116.00,398.68 119.00,398.80 C122.00,398.92 121.51,398.64 124.00,399.60 C126.49,400.56 126.70,400.38 127.30,402.00 C127.90,403.62 127.89,403.53 126.00,405.00 C124.11,406.47 124.30,406.48 121.00,406.90 C117.70,407.32 117.70,407.27 115.00,406.40 C112.30,405.53 113.14,405.62 112.00,404.00 C110.86,402.38 110.60,402.44 111.20,401.00Z" fill="#eba676"/>
<path d="M85.80,412.00 C86.25,409.45 86.44,409.36 88.00,407.50 C89.56,405.64 89.20,405.95 91.00,405.80 C92.80,405.65 92.20,405.89 94.00,407.00 C95.80,408.11 95.65,407.70 97.00,409.50 C98.35,411.30 98.65,410.90 98.50,413.00 C98.35,415.10 98.15,414.52 96.50,416.50 C94.85,418.48 95.25,419.00 93.00,419.60 C90.75,420.20 90.95,419.58 89.00,418.50 C87.05,417.42 87.46,417.95 86.50,416.00 C85.54,414.05 85.35,414.55 85.80,412.00Z" fill="#baaad6"/>
<path d="M106.00,358.00 C105.83,356.50 106.33,356.50 108.00,357.50 C109.67,358.50 110.17,359.00 111.00,361.00 C111.83,363.00 111.33,363.17 110.50,363.50 C109.67,363.83 110.00,363.83 108.50,362.00 C107.00,360.17 106.17,359.50 106.00,358.00Z" fill="#b24a4a"/>
<path d="M112.00,376.00 C113.33,374.50 115.00,374.67 118.00,375.00 C121.00,375.33 120.67,375.67 121.00,377.00 C121.33,378.33 121.33,378.17 119.00,379.00 C116.67,379.83 116.33,380.50 114.00,379.50 C111.67,378.50 110.67,377.50 112.00,376.00Z" fill="#e8a5b8"/>
<path d="M76.00,386.00 C78.00,385.33 78.00,385.67 82.00,387.00 C86.00,388.33 85.33,388.00 88.00,390.00 C90.67,392.00 90.67,391.83 90.00,393.00 C89.33,394.17 89.33,394.17 86.00,393.50 C82.67,392.83 83.33,392.50 80.00,391.00 C76.67,389.50 77.33,390.67 76.00,389.00 C74.67,387.33 74.00,386.67 76.00,386.00Z" fill="#a88aa6"/>
<circle cx="148.00" cy="358.30" r="1.0" fill="#f2b2c8"/>
<path d="M98.00,356.00 C99.33,354.47 100.33,355.07 103.00,355.40 C105.67,355.73 105.67,355.63 106.00,357.00 C106.33,358.37 106.33,358.50 104.00,359.50 C101.67,360.50 101.00,361.17 99.00,360.00 C97.00,358.83 96.67,357.53 98.00,356.00Z" fill="#c8d6c0"/>
<g transform="translate(201.5,12.5) scale(0.935,0.972)">
<path d="M74.20,358.50 C75.85,356.76 76.76,358.45 80.00,359.20 C83.24,359.95 83.50,359.26 85.00,361.00 C86.50,362.74 86.50,362.75 85.00,365.00 C83.50,367.25 83.60,366.70 80.00,368.50 C76.40,370.30 74.65,372.05 73.00,371.00 C71.35,369.95 74.14,368.75 74.50,365.00 C74.86,361.25 72.55,360.24 74.20,358.50Z" fill="#47a7dd"/>
<path d="M74.30,355.50 C74.90,353.91 75.89,354.35 80.00,354.50 C84.11,354.65 82.90,355.70 88.00,356.00 C93.10,356.30 92.20,355.20 97.00,355.50 C101.80,355.80 100.10,355.20 104.00,357.00 C107.90,358.80 107.15,358.65 110.00,361.50 C112.85,364.35 112.15,363.05 113.50,366.50 C114.85,369.95 114.20,369.70 114.50,373.00 C114.80,376.30 113.45,376.15 114.50,377.50 C115.55,378.85 115.90,376.60 118.00,377.50 C120.10,378.40 121.80,378.55 121.50,380.50 C121.20,382.45 121.05,382.65 117.00,384.00 C112.95,385.35 112.50,384.40 108.00,385.00 C103.50,385.60 105.30,384.95 102.00,386.00 C98.70,387.05 99.70,386.25 97.00,388.50 C94.30,390.75 95.55,391.61 93.00,393.50 C90.45,395.39 91.20,395.40 88.50,394.80 C85.80,394.20 87.15,393.69 84.00,391.50 C80.85,389.31 81.15,390.05 78.00,387.50 C74.85,384.95 76.65,386.00 73.50,383.00 C70.35,380.00 69.90,380.65 67.50,377.50 C65.10,374.35 65.35,374.60 65.50,372.50 C65.65,370.40 65.75,371.25 68.00,370.50 C70.25,369.75 69.70,370.75 73.00,370.00 C76.30,369.25 75.70,369.65 79.00,368.00 C82.30,366.35 82.50,366.60 84.00,364.50 C85.50,362.40 85.80,362.41 84.00,361.00 C82.20,359.59 80.91,361.45 78.00,359.80 C75.09,358.15 73.70,357.09 74.30,355.50Z" fill="#47a7dd"/>
<path d="M88.00,336.50 C87.70,335.27 88.20,335.19 90.00,334.50 C91.80,333.81 91.90,334.05 94.00,334.20 C96.10,334.35 94.96,334.61 97.00,335.00 C99.04,335.39 99.90,334.75 100.80,335.50 C101.70,336.25 101.44,336.51 100.00,337.50 C98.56,338.49 98.70,338.47 96.00,338.80 C93.30,339.13 93.40,339.29 91.00,338.60 C88.60,337.91 88.30,337.73 88.00,336.50Z" fill="#3d74d2"/>
<path d="M111.20,351.00 C111.50,349.50 111.76,350.04 115.00,349.50 C118.24,348.96 117.50,349.05 122.00,349.20 C126.50,349.35 126.10,349.31 130.00,350.00 C133.90,350.69 133.05,350.45 135.00,351.50 C136.95,352.55 136.80,352.30 136.50,353.50 C136.20,354.70 136.55,354.69 134.00,355.50 C131.45,356.31 132.20,356.11 128.00,356.20 C123.80,356.29 124.20,356.31 120.00,355.80 C115.80,355.29 116.64,355.94 114.00,354.50 C111.36,353.06 110.90,352.50 111.20,351.00Z" fill="#56bcda"/>
<path d="M98.00,380.00 C99.80,378.50 101.20,379.55 106.00,378.50 C110.80,377.45 110.10,376.65 114.00,376.50 C117.90,376.35 116.60,376.80 119.00,378.00 C121.40,379.20 122.60,378.85 122.00,380.50 C121.40,382.15 121.20,382.30 117.00,383.50 C112.80,384.70 113.10,384.50 108.00,384.50 C102.90,384.50 103.00,384.85 100.00,383.50 C97.00,382.15 96.20,381.50 98.00,380.00Z" fill="#6cc4c8"/>
<path d="M85.00,364.00 C85.60,361.90 86.70,362.65 90.00,361.00 C93.30,359.35 92.40,360.00 96.00,358.50 C99.60,357.00 98.70,356.60 102.00,356.00 C105.30,355.40 104.60,355.30 107.00,356.50 C109.40,357.70 109.70,357.75 110.00,360.00 C110.30,362.25 110.70,362.20 108.00,364.00 C105.30,365.80 105.20,365.10 101.00,366.00 C96.80,366.90 97.90,366.40 94.00,367.00 C90.10,367.60 90.70,368.90 88.00,368.00 C85.30,367.10 84.40,366.10 85.00,364.00Z" fill="#4fa4de"/>
<path d="M88.00,366.00 C89.35,364.05 89.30,364.55 92.00,363.50 C94.70,362.45 93.70,362.80 97.00,362.50 C100.30,362.20 99.70,362.20 103.00,362.50 C106.30,362.80 105.30,362.60 108.00,363.50 C110.70,364.40 110.26,363.85 112.00,365.50 C113.74,367.15 113.20,366.45 113.80,369.00 C114.40,371.55 114.09,371.00 114.00,374.00 C113.91,377.00 114.40,376.30 113.50,379.00 C112.60,381.70 113.55,381.05 111.00,383.00 C108.45,384.95 109.20,384.60 105.00,385.50 C100.80,386.40 101.20,386.30 97.00,386.00 C92.80,385.70 93.70,386.00 91.00,384.50 C88.30,383.00 89.05,383.55 88.00,381.00 C86.95,378.45 87.65,379.30 87.50,376.00 C87.35,372.70 87.35,373.00 87.50,370.00 C87.65,367.00 86.65,367.95 88.00,366.00Z" fill="#72c4b4"/>
<path d="M65.80,372.50 C66.10,371.30 66.14,371.30 68.00,371.00 C69.86,370.70 69.30,370.75 72.00,371.50 C74.70,372.25 74.30,372.30 77.00,373.50 C79.70,374.70 79.17,374.15 81.00,375.50 C82.83,376.85 82.80,376.50 83.10,378.00 C83.40,379.50 83.23,379.30 82.00,380.50 C80.77,381.70 81.10,382.00 79.00,382.00 C76.90,382.00 77.70,381.85 75.00,380.50 C72.30,379.15 72.40,379.15 70.00,377.50 C67.60,375.85 68.26,376.50 67.00,375.00 C65.74,373.50 65.50,373.70 65.80,372.50Z" fill="#45a6df"/>
<path d="M82.00,372.00 C82.75,370.35 83.29,371.20 85.00,371.50 C86.71,371.80 86.95,371.50 87.70,373.00 C88.45,374.50 88.31,374.85 87.50,376.50 C86.69,378.15 86.50,378.35 85.00,378.50 C83.50,378.65 83.40,378.95 82.50,377.00 C81.60,375.05 81.25,373.65 82.00,372.00Z" fill="#5ab8d8"/>
<path d="M73.80,381.00 C74.70,380.10 74.94,380.35 78.00,380.50 C81.06,380.65 80.40,380.60 84.00,381.50 C87.60,382.40 86.82,382.15 90.00,383.50 C93.18,384.85 93.70,384.35 94.60,386.00 C95.50,387.65 94.38,387.20 93.00,389.00 C91.62,390.80 91.26,390.65 90.00,392.00 C88.74,393.35 90.00,393.65 88.80,393.50 C87.60,393.35 87.74,393.00 86.00,391.50 C84.26,390.00 85.40,390.30 83.00,388.50 C80.60,386.70 80.40,387.00 78.00,385.50 C75.60,384.00 76.26,384.85 75.00,383.50 C73.74,382.15 72.90,381.90 73.80,381.00Z" fill="#44acdc"/>
<path d="M74.40,356.50 C75.00,355.45 75.02,355.25 77.00,354.80 C78.98,354.35 78.90,354.58 81.00,355.00 C83.10,355.42 81.90,355.75 84.00,356.20 C86.10,356.65 85.60,356.50 88.00,356.50 C90.40,356.50 90.35,356.05 92.00,356.20 C93.65,356.35 93.50,356.40 93.50,357.00 C93.50,357.60 93.95,357.72 92.00,358.20 C90.05,358.68 89.40,358.24 87.00,358.60 C84.60,358.96 85.50,358.80 84.00,359.40 C82.50,360.00 83.80,360.48 82.00,360.60 C80.20,360.72 80.10,360.49 78.00,359.80 C75.90,359.11 76.08,359.29 75.00,358.30 C73.92,357.31 73.80,357.55 74.40,356.50Z" fill="#2f60c6"/>
<path d="M118.00,372.50 C118.75,371.00 118.90,370.65 121.00,369.00 C123.10,367.35 122.60,367.75 125.00,367.00 C127.40,366.25 127.26,366.20 129.00,366.50 C130.74,366.80 130.65,366.50 130.80,368.00 C130.95,369.50 130.94,369.76 129.50,371.50 C128.06,373.24 128.40,372.87 126.00,373.80 C123.60,374.73 123.75,374.54 121.50,374.60 C119.25,374.66 119.55,374.63 118.50,374.00 C117.45,373.37 117.25,374.00 118.00,372.50Z" fill="#d4de3e"/>
<path d="M119.20,384.00 C120.25,382.71 120.36,383.00 123.00,382.70 C125.64,382.40 125.30,382.61 128.00,383.00 C130.70,383.39 130.95,382.50 132.00,384.00 C133.05,385.50 132.40,385.90 131.50,388.00 C130.60,390.10 131.25,389.83 129.00,391.00 C126.75,392.17 126.70,392.05 124.00,391.90 C121.30,391.75 121.35,391.97 120.00,390.50 C118.65,389.03 119.74,388.95 119.50,387.00 C119.26,385.05 118.15,385.29 119.20,384.00Z" fill="#3d8bd8"/>
<path d="M134.50,379.00 C135.10,377.38 135.61,377.96 137.80,377.60 C139.99,377.24 139.70,377.23 141.80,377.80 C143.90,378.37 144.05,377.94 144.80,379.50 C145.55,381.06 145.05,380.99 144.30,383.00 C143.55,385.01 143.95,385.45 142.30,386.20 C140.65,386.95 140.75,386.46 138.80,385.50 C136.85,384.54 137.09,384.95 135.80,383.00 C134.51,381.05 133.90,380.62 134.50,379.00Z" fill="#8ccb6c"/>
<path d="M160.80,384.00 C161.25,382.35 161.44,382.44 163.00,381.00 C164.56,379.56 164.20,379.50 166.00,379.20 C167.80,378.90 167.80,378.86 169.00,380.00 C170.20,381.14 170.15,381.20 170.00,383.00 C169.85,384.80 169.70,384.35 168.50,386.00 C167.30,387.65 167.65,387.90 166.00,388.50 C164.35,389.10 164.35,388.60 163.00,388.00 C161.65,387.40 162.16,387.70 161.50,386.50 C160.84,385.30 160.35,385.65 160.80,384.00Z" fill="#bcd84a"/>
<path d="M111.20,401.00 C111.80,399.56 111.66,399.86 114.00,399.20 C116.34,398.54 116.00,398.68 119.00,398.80 C122.00,398.92 121.51,398.64 124.00,399.60 C126.49,400.56 126.70,400.38 127.30,402.00 C127.90,403.62 127.89,403.53 126.00,405.00 C124.11,406.47 124.30,406.48 121.00,406.90 C117.70,407.32 117.70,407.27 115.00,406.40 C112.30,405.53 113.14,405.62 112.00,404.00 C110.86,402.38 110.60,402.44 111.20,401.00Z" fill="#54b8d8"/>
<path d="M85.80,412.00 C86.25,409.45 86.44,409.36 88.00,407.50 C89.56,405.64 89.20,405.95 91.00,405.80 C92.80,405.65 92.20,405.89 94.00,407.00 C95.80,408.11 95.65,407.70 97.00,409.50 C98.35,411.30 98.65,410.90 98.50,413.00 C98.35,415.10 98.15,414.52 96.50,416.50 C94.85,418.48 95.25,419.00 93.00,419.60 C90.75,420.20 90.95,419.58 89.00,418.50 C87.05,417.42 87.46,417.95 86.50,416.00 C85.54,414.05 85.35,414.55 85.80,412.00Z" fill="#3f88d8"/>
<path d="M93.00,368.00 C95.67,365.00 95.00,366.33 100.00,366.00 C105.00,365.67 104.00,365.00 108.00,367.00 C112.00,369.00 111.00,368.00 112.00,372.00 C113.00,376.00 113.67,375.67 111.00,379.00 C108.33,382.33 109.00,381.33 104.00,382.00 C99.00,382.67 100.00,383.33 96.00,381.00 C92.00,378.67 93.00,379.33 92.00,375.00 C91.00,370.67 90.33,371.00 93.00,368.00Z" fill="#c2d944"/>
<path d="M62.00,366.00 C66.27,359.00 70.27,363.33 74.80,365.00 C79.33,366.67 75.47,367.00 75.60,371.00 C75.73,375.00 75.53,372.33 75.20,377.00 C74.87,381.67 79.00,382.00 74.60,385.00 C70.20,388.00 66.20,392.33 62.00,386.00 C57.80,379.67 57.73,373.00 62.00,366.00Z" fill="#ffffff"/>
<path d="M77.50,377.50 C78.83,376.33 79.33,376.33 81.00,377.00 C82.67,377.67 82.83,378.00 82.50,379.50 C82.17,381.00 81.83,381.17 80.00,381.50 C78.17,381.83 77.83,381.83 77.00,380.50 C76.17,379.17 76.17,378.67 77.50,377.50Z" fill="#ffffff"/>
<path d="M119.00,380.00 C119.00,379.17 122.00,379.33 126.00,379.50 C130.00,379.67 131.00,379.67 131.00,380.50 C131.00,381.33 130.00,382.17 126.00,382.00 C122.00,381.83 119.00,380.83 119.00,380.00Z" fill="#2a3fa8"/>
<path d="M113.00,380.00 C113.67,378.67 115.00,378.33 117.00,379.00 C119.00,379.67 119.67,380.67 119.00,382.00 C118.33,383.33 117.00,383.67 115.00,383.00 C113.00,382.33 112.33,381.33 113.00,380.00Z" fill="#98cc66"/>
<circle cx="148.00" cy="358.30" r="0.9" fill="#3a6ad0"/>
<path d="M74.40,362.00 C75.73,360.00 76.80,360.33 80.00,361.00 C83.20,361.67 84.00,361.67 84.00,364.00 C84.00,366.33 82.67,367.00 80.00,368.00 C77.33,369.00 77.87,369.00 76.00,367.00 C74.13,365.00 73.07,364.00 74.40,362.00Z" fill="#3d7ed6"/>
</g>
<g transform="translate(321.5,12.5) scale(0.935,0.972)">
<path d="M74.20,358.50 C75.85,356.76 76.76,358.45 80.00,359.20 C83.24,359.95 83.50,359.26 85.00,361.00 C86.50,362.74 86.50,362.75 85.00,365.00 C83.50,367.25 83.60,366.70 80.00,368.50 C76.40,370.30 74.65,372.05 73.00,371.00 C71.35,369.95 74.14,368.75 74.50,365.00 C74.86,361.25 72.55,360.24 74.20,358.50Z" fill="#69bfc9"/>
<path d="M74.30,355.50 C74.90,353.91 75.89,354.35 80.00,354.50 C84.11,354.65 82.90,355.70 88.00,356.00 C93.10,356.30 92.20,355.20 97.00,355.50 C101.80,355.80 100.10,355.20 104.00,357.00 C107.90,358.80 107.15,358.65 110.00,361.50 C112.85,364.35 112.15,363.05 113.50,366.50 C114.85,369.95 114.20,369.70 114.50,373.00 C114.80,376.30 113.45,376.15 114.50,377.50 C115.55,378.85 115.90,376.60 118.00,377.50 C120.10,378.40 121.80,378.55 121.50,380.50 C121.20,382.45 121.05,382.65 117.00,384.00 C112.95,385.35 112.50,384.40 108.00,385.00 C103.50,385.60 105.30,384.95 102.00,386.00 C98.70,387.05 99.70,386.25 97.00,388.50 C94.30,390.75 95.55,391.61 93.00,393.50 C90.45,395.39 91.20,395.40 88.50,394.80 C85.80,394.20 87.15,393.69 84.00,391.50 C80.85,389.31 81.15,390.05 78.00,387.50 C74.85,384.95 76.65,386.00 73.50,383.00 C70.35,380.00 69.90,380.65 67.50,377.50 C65.10,374.35 65.35,374.60 65.50,372.50 C65.65,370.40 65.75,371.25 68.00,370.50 C70.25,369.75 69.70,370.75 73.00,370.00 C76.30,369.25 75.70,369.65 79.00,368.00 C82.30,366.35 82.50,366.60 84.00,364.50 C85.50,362.40 85.80,362.41 84.00,361.00 C82.20,359.59 80.91,361.45 78.00,359.80 C75.09,358.15 73.70,357.09 74.30,355.50Z" fill="#69bfc9"/>
<path d="M88.00,336.50 C87.70,335.27 88.20,335.19 90.00,334.50 C91.80,333.81 91.90,334.05 94.00,334.20 C96.10,334.35 94.96,334.61 97.00,335.00 C99.04,335.39 99.90,334.75 100.80,335.50 C101.70,336.25 101.44,336.51 100.00,337.50 C98.56,338.49 98.70,338.47 96.00,338.80 C93.30,339.13 93.40,339.29 91.00,338.60 C88.60,337.91 88.30,337.73 88.00,336.50Z" fill="#6cc6c2"/>
<path d="M111.20,351.00 C111.50,349.50 111.76,350.04 115.00,349.50 C118.24,348.96 117.50,349.05 122.00,349.20 C126.50,349.35 126.10,349.31 130.00,350.00 C133.90,350.69 133.05,350.45 135.00,351.50 C136.95,352.55 136.80,352.30 136.50,353.50 C136.20,354.70 136.55,354.69 134.00,355.50 C131.45,356.31 132.20,356.11 128.00,356.20 C123.80,356.29 124.20,356.31 120.00,355.80 C115.80,355.29 116.64,355.94 114.00,354.50 C111.36,353.06 110.90,352.50 111.20,351.00Z" fill="#6fc3ae"/>
<path d="M98.00,380.00 C99.80,378.50 101.20,379.55 106.00,378.50 C110.80,377.45 110.10,376.65 114.00,376.50 C117.90,376.35 116.60,376.80 119.00,378.00 C121.40,379.20 122.60,378.85 122.00,380.50 C121.40,382.15 121.20,382.30 117.00,383.50 C112.80,384.70 113.10,384.50 108.00,384.50 C102.90,384.50 103.00,384.85 100.00,383.50 C97.00,382.15 96.20,381.50 98.00,380.00Z" fill="#58b8d0"/>
<path d="M85.00,364.00 C85.60,361.90 86.70,362.65 90.00,361.00 C93.30,359.35 92.40,360.00 96.00,358.50 C99.60,357.00 98.70,356.60 102.00,356.00 C105.30,355.40 104.60,355.30 107.00,356.50 C109.40,357.70 109.70,357.75 110.00,360.00 C110.30,362.25 110.70,362.20 108.00,364.00 C105.30,365.80 105.20,365.10 101.00,366.00 C96.80,366.90 97.90,366.40 94.00,367.00 C90.10,367.60 90.70,368.90 88.00,368.00 C85.30,367.10 84.40,366.10 85.00,364.00Z" fill="#6cc09a"/>
<path d="M88.00,366.00 C89.35,364.05 89.30,364.55 92.00,363.50 C94.70,362.45 93.70,362.80 97.00,362.50 C100.30,362.20 99.70,362.20 103.00,362.50 C106.30,362.80 105.30,362.60 108.00,363.50 C110.70,364.40 110.26,363.85 112.00,365.50 C113.74,367.15 113.20,366.45 113.80,369.00 C114.40,371.55 114.09,371.00 114.00,374.00 C113.91,377.00 114.40,376.30 113.50,379.00 C112.60,381.70 113.55,381.05 111.00,383.00 C108.45,384.95 109.20,384.60 105.00,385.50 C100.80,386.40 101.20,386.30 97.00,386.00 C92.80,385.70 93.70,386.00 91.00,384.50 C88.30,383.00 89.05,383.55 88.00,381.00 C86.95,378.45 87.65,379.30 87.50,376.00 C87.35,372.70 87.35,373.00 87.50,370.00 C87.65,367.00 86.65,367.95 88.00,366.00Z" fill="#6ec2c6"/>
<path d="M65.80,372.50 C66.10,371.30 66.14,371.30 68.00,371.00 C69.86,370.70 69.30,370.75 72.00,371.50 C74.70,372.25 74.30,372.30 77.00,373.50 C79.70,374.70 79.17,374.15 81.00,375.50 C82.83,376.85 82.80,376.50 83.10,378.00 C83.40,379.50 83.23,379.30 82.00,380.50 C80.77,381.70 81.10,382.00 79.00,382.00 C76.90,382.00 77.70,381.85 75.00,380.50 C72.30,379.15 72.40,379.15 70.00,377.50 C67.60,375.85 68.26,376.50 67.00,375.00 C65.74,373.50 65.50,373.70 65.80,372.50Z" fill="#e0cf32"/>
<path d="M82.00,372.00 C82.75,370.35 83.29,371.20 85.00,371.50 C86.71,371.80 86.95,371.50 87.70,373.00 C88.45,374.50 88.31,374.85 87.50,376.50 C86.69,378.15 86.50,378.35 85.00,378.50 C83.50,378.65 83.40,378.95 82.50,377.00 C81.60,375.05 81.25,373.65 82.00,372.00Z" fill="#8cc87a"/>
<path d="M73.80,381.00 C74.70,380.10 74.94,380.35 78.00,380.50 C81.06,380.65 80.40,380.60 84.00,381.50 C87.60,382.40 86.82,382.15 90.00,383.50 C93.18,384.85 93.70,384.35 94.60,386.00 C95.50,387.65 94.38,387.20 93.00,389.00 C91.62,390.80 91.26,390.65 90.00,392.00 C88.74,393.35 90.00,393.65 88.80,393.50 C87.60,393.35 87.74,393.00 86.00,391.50 C84.26,390.00 85.40,390.30 83.00,388.50 C80.60,386.70 80.40,387.00 78.00,385.50 C75.60,384.00 76.26,384.85 75.00,383.50 C73.74,382.15 72.90,381.90 73.80,381.00Z" fill="#e4d02e"/>
<path d="M74.40,356.50 C75.00,355.45 75.02,355.25 77.00,354.80 C78.98,354.35 78.90,354.58 81.00,355.00 C83.10,355.42 81.90,355.75 84.00,356.20 C86.10,356.65 85.60,356.50 88.00,356.50 C90.40,356.50 90.35,356.05 92.00,356.20 C93.65,356.35 93.50,356.40 93.50,357.00 C93.50,357.60 93.95,357.72 92.00,358.20 C90.05,358.68 89.40,358.24 87.00,358.60 C84.60,358.96 85.50,358.80 84.00,359.40 C82.50,360.00 83.80,360.48 82.00,360.60 C80.20,360.72 80.10,360.49 78.00,359.80 C75.90,359.11 76.08,359.29 75.00,358.30 C73.92,357.31 73.80,357.55 74.40,356.50Z" fill="#ef9e30"/>
<path d="M118.00,372.50 C118.75,371.00 118.90,370.65 121.00,369.00 C123.10,367.35 122.60,367.75 125.00,367.00 C127.40,366.25 127.26,366.20 129.00,366.50 C130.74,366.80 130.65,366.50 130.80,368.00 C130.95,369.50 130.94,369.76 129.50,371.50 C128.06,373.24 128.40,372.87 126.00,373.80 C123.60,374.73 123.75,374.54 121.50,374.60 C119.25,374.66 119.55,374.63 118.50,374.00 C117.45,373.37 117.25,374.00 118.00,372.50Z" fill="#a9d262"/>
<path d="M119.20,384.00 C120.25,382.71 120.36,383.00 123.00,382.70 C125.64,382.40 125.30,382.61 128.00,383.00 C130.70,383.39 130.95,382.50 132.00,384.00 C133.05,385.50 132.40,385.90 131.50,388.00 C130.60,390.10 131.25,389.83 129.00,391.00 C126.75,392.17 126.70,392.05 124.00,391.90 C121.30,391.75 121.35,391.97 120.00,390.50 C118.65,389.03 119.74,388.95 119.50,387.00 C119.26,385.05 118.15,385.29 119.20,384.00Z" fill="#c6d744"/>
<path d="M134.50,379.00 C135.10,377.38 135.61,377.96 137.80,377.60 C139.99,377.24 139.70,377.23 141.80,377.80 C143.90,378.37 144.05,377.94 144.80,379.50 C145.55,381.06 145.05,380.99 144.30,383.00 C143.55,385.01 143.95,385.45 142.30,386.20 C140.65,386.95 140.75,386.46 138.80,385.50 C136.85,384.54 137.09,384.95 135.80,383.00 C134.51,381.05 133.90,380.62 134.50,379.00Z" fill="#3c8fd8"/>
<path d="M160.80,384.00 C161.25,382.35 161.44,382.44 163.00,381.00 C164.56,379.56 164.20,379.50 166.00,379.20 C167.80,378.90 167.80,378.86 169.00,380.00 C170.20,381.14 170.15,381.20 170.00,383.00 C169.85,384.80 169.70,384.35 168.50,386.00 C167.30,387.65 167.65,387.90 166.00,388.50 C164.35,389.10 164.35,388.60 163.00,388.00 C161.65,387.40 162.16,387.70 161.50,386.50 C160.84,385.30 160.35,385.65 160.80,384.00Z" fill="#3b7fd2"/>
<path d="M111.20,401.00 C111.80,399.56 111.66,399.86 114.00,399.20 C116.34,398.54 116.00,398.68 119.00,398.80 C122.00,398.92 121.51,398.64 124.00,399.60 C126.49,400.56 126.70,400.38 127.30,402.00 C127.90,403.62 127.89,403.53 126.00,405.00 C124.11,406.47 124.30,406.48 121.00,406.90 C117.70,407.32 117.70,407.27 115.00,406.40 C112.30,405.53 113.14,405.62 112.00,404.00 C110.86,402.38 110.60,402.44 111.20,401.00Z" fill="#98cd6e"/>
<path d="M85.80,412.00 C86.25,409.45 86.44,409.36 88.00,407.50 C89.56,405.64 89.20,405.95 91.00,405.80 C92.80,405.65 92.20,405.89 94.00,407.00 C95.80,408.11 95.65,407.70 97.00,409.50 C98.35,411.30 98.65,410.90 98.50,413.00 C98.35,415.10 98.15,414.52 96.50,416.50 C94.85,418.48 95.25,419.00 93.00,419.60 C90.75,420.20 90.95,419.58 89.00,418.50 C87.05,417.42 87.46,417.95 86.50,416.00 C85.54,414.05 85.35,414.55 85.80,412.00Z" fill="#ec7a28"/>
<path d="M80.00,355.50 C81.67,354.77 82.00,354.97 84.00,355.80 C86.00,356.63 86.67,356.77 86.00,358.00 C85.33,359.23 84.33,359.50 82.00,359.50 C79.67,359.50 79.67,359.33 79.00,358.00 C78.33,356.67 78.33,356.23 80.00,355.50Z" fill="#e04414"/>
<path d="M98.00,372.00 C99.00,369.67 100.00,370.00 104.00,370.00 C108.00,370.00 108.67,369.67 110.00,372.00 C111.33,374.33 111.00,375.33 108.00,377.00 C105.00,378.67 104.33,378.67 101.00,377.00 C97.67,375.33 97.00,374.33 98.00,372.00Z" fill="#9fd070"/>
<path d="M119.00,380.00 C119.00,379.17 122.00,379.33 126.00,379.50 C130.00,379.67 131.00,379.67 131.00,380.50 C131.00,381.33 130.00,382.17 126.00,382.00 C122.00,381.83 119.00,380.83 119.00,380.00Z" fill="#2a3fa8"/>
<circle cx="148.00" cy="358.30" r="0.9" fill="#3a6ad0"/>
<path d="M87.00,412.00 C87.67,410.00 88.33,409.67 91.00,410.00 C93.67,410.33 94.33,410.67 95.00,413.00 C95.67,415.33 95.00,416.00 93.00,417.00 C91.00,418.00 91.00,417.67 89.00,416.00 C87.00,414.33 86.33,414.00 87.00,412.00Z" fill="#e23a1a"/>
<path d="M77.50,377.50 C78.83,376.33 79.33,376.33 81.00,377.00 C82.67,377.67 82.83,378.00 82.50,379.50 C82.17,381.00 81.83,381.17 80.00,381.50 C78.17,381.83 77.83,381.83 77.00,380.50 C76.17,379.17 76.17,378.67 77.50,377.50Z" fill="#ffffff"/>
<path d="M76.00,355.20 C77.17,353.80 76.67,354.47 80.00,354.60 C83.33,354.73 83.00,354.63 86.00,355.60 C89.00,356.57 89.33,356.03 89.00,357.50 C88.67,358.97 88.00,359.03 85.00,360.00 C82.00,360.97 82.83,360.80 80.00,360.40 C77.17,360.00 77.83,360.53 76.50,358.80 C75.17,357.07 74.83,356.60 76.00,355.20Z" fill="#f2a634"/>
<path d="M80.00,355.60 C81.47,354.80 82.00,355.13 84.00,355.80 C86.00,356.47 86.50,356.47 86.00,357.60 C85.50,358.73 84.63,359.00 82.50,359.20 C80.37,359.40 80.43,359.40 79.60,358.20 C78.77,357.00 78.53,356.40 80.00,355.60Z" fill="#e04414"/>
</g>
<text x="298.90" y="325.00" font-size="8.9" textLength="23.80" lengthAdjust="spacingAndGlyphs">CC 21</text>
<text x="409.00" y="325.40" font-size="8.9" textLength="23.20" lengthAdjust="spacingAndGlyphs">CC 17</text>
<line x1="60.50" y1="424.60" x2="88.30" y2="424.60" stroke="#231f20" stroke-width="1.0"/>
<line x1="60.50" y1="425.10" x2="60.50" y2="395.50" stroke="#231f20" stroke-width="1.0"/>
<path d="M90.80,424.60 L87.20,422.70 L87.20,426.50 Z" fill="#231f20"/>
<path d="M60.50,393.00 L58.60,396.60 L62.40,396.60 Z" fill="#231f20"/>
<text x="75.80" y="433.00" font-size="6.6" text-anchor="middle" textLength="23.90" lengthAdjust="spacingAndGlyphs" stroke="#231f20" stroke-width="0.18">UMAP-1</text>
<text x="56.60" y="409.60" font-size="6.6" text-anchor="middle" textLength="22.30" lengthAdjust="spacingAndGlyphs" transform="rotate(-90 56.60 409.60)" stroke="#231f20" stroke-width="0.18">UMAP-2</text>
<circle cx="183.50" cy="331.00" r="2.8" fill="#1f77b4"/>
<text x="189.30" y="333.40" font-size="7.3" textLength="15.45" lengthAdjust="spacingAndGlyphs" stroke="#231f20" stroke-width="0.18">FL-01</text>
<circle cx="183.50" cy="339.55" r="2.8" fill="#ff7f0e"/>
<text x="189.30" y="341.95" font-size="7.3" textLength="15.45" lengthAdjust="spacingAndGlyphs" stroke="#231f20" stroke-width="0.18">FL-02</text>
<circle cx="183.50" cy="348.10" r="2.8" fill="#2ca02c"/>
<text x="189.30" y="350.50" font-size="7.3" textLength="15.45" lengthAdjust="spacingAndGlyphs" stroke="#231f20" stroke-width="0.18">FL-03</text>
<circle cx="183.50" cy="356.65" r="2.8" fill="#d62728"/>
<text x="189.30" y="359.05" font-size="7.3" textLength="15.45" lengthAdjust="spacingAndGlyphs" stroke="#231f20" stroke-width="0.18">FL-04</text>
<circle cx="183.50" cy="365.20" r="2.8" fill="#9467bd"/>
<text x="189.30" y="367.60" font-size="7.3" textLength="15.45" lengthAdjust="spacingAndGlyphs" stroke="#231f20" stroke-width="0.18">FL-05</text>
<circle cx="217.10" cy="331.00" r="2.8" fill="#8c564b"/>
<text x="222.90" y="333.40" font-size="7.3" textLength="15.45" lengthAdjust="spacingAndGlyphs" stroke="#231f20" stroke-width="0.18">FL-06</text>
<circle cx="217.10" cy="339.55" r="2.8" fill="#e377c2"/>
<text x="222.90" y="341.95" font-size="7.3" textLength="15.45" lengthAdjust="spacingAndGlyphs" stroke="#231f20" stroke-width="0.18">FL-07</text>
<circle cx="217.10" cy="348.10" r="2.8" fill="#7f7f7f"/>
<text x="222.90" y="350.50" font-size="7.3" textLength="15.45" lengthAdjust="spacingAndGlyphs" stroke="#231f20" stroke-width="0.18">FL-08</text>
<circle cx="217.10" cy="356.65" r="2.8" fill="#bcbd22"/>
<text x="222.90" y="359.05" font-size="7.3" textLength="15.45" lengthAdjust="spacingAndGlyphs" stroke="#231f20" stroke-width="0.18">FL-09</text>
<circle cx="217.10" cy="365.20" r="2.8" fill="#17becf"/>
<text x="222.90" y="367.60" font-size="7.3" textLength="15.45" lengthAdjust="spacingAndGlyphs" stroke="#231f20" stroke-width="0.18">FL-10</text>
<circle cx="183.50" cy="382.10" r="2.8" fill="#aec7e8"/>
<text x="189.30" y="384.50" font-size="7.3" textLength="15.01" lengthAdjust="spacingAndGlyphs" stroke="#231f20" stroke-width="0.18">FL-11</text>
<circle cx="183.50" cy="390.65" r="2.8" fill="#ffbb78"/>
<text x="189.30" y="393.05" font-size="7.3" textLength="15.45" lengthAdjust="spacingAndGlyphs" stroke="#231f20" stroke-width="0.18">FL-12</text>
<circle cx="183.50" cy="399.20" r="2.8" fill="#98df8a"/>
<text x="189.30" y="401.60" font-size="7.3" textLength="15.45" lengthAdjust="spacingAndGlyphs" stroke="#231f20" stroke-width="0.18">FL-13</text>
<circle cx="183.50" cy="407.75" r="2.8" fill="#ff9896"/>
<text x="189.30" y="410.15" font-size="7.3" textLength="15.45" lengthAdjust="spacingAndGlyphs" stroke="#231f20" stroke-width="0.18">FL-14</text>
<circle cx="183.50" cy="416.30" r="2.8" fill="#c5b0d5"/>
<text x="189.30" y="418.70" font-size="7.3" textLength="15.45" lengthAdjust="spacingAndGlyphs" stroke="#231f20" stroke-width="0.18">FL-15</text>
<circle cx="217.10" cy="382.10" r="2.8" fill="#c49c94"/>
<text x="222.90" y="384.50" font-size="7.3" textLength="15.45" lengthAdjust="spacingAndGlyphs" stroke="#231f20" stroke-width="0.18">FL-16</text>
<circle cx="217.10" cy="390.65" r="2.8" fill="#f7b6d2"/>
<text x="222.90" y="393.05" font-size="7.3" textLength="15.45" lengthAdjust="spacingAndGlyphs" stroke="#231f20" stroke-width="0.18">FL-17</text>
<circle cx="217.10" cy="399.20" r="2.8" fill="#c7c7c7"/>
<text x="222.90" y="401.60" font-size="7.3" textLength="15.45" lengthAdjust="spacingAndGlyphs" stroke="#231f20" stroke-width="0.18">FL-18</text>
<circle cx="217.10" cy="407.75" r="2.8" fill="#dbdb8d"/>
<text x="222.90" y="410.15" font-size="7.3" textLength="15.45" lengthAdjust="spacingAndGlyphs" stroke="#231f20" stroke-width="0.18">FL-19</text>
<circle cx="217.10" cy="416.30" r="2.8" fill="#9edae5"/>
<text x="222.90" y="418.70" font-size="7.3" textLength="15.45" lengthAdjust="spacingAndGlyphs" stroke="#231f20" stroke-width="0.18">FL-20</text>
<defs><linearGradient id="gE2" x1="0" y1="0" x2="1" y2="0"><stop offset="0" stop-color="#1a2790"/><stop offset="0.18" stop-color="#2b5fcb"/><stop offset="0.34" stop-color="#3fa6dc"/><stop offset="0.48" stop-color="#66c4b8"/><stop offset="0.6" stop-color="#b6d848"/><stop offset="0.7" stop-color="#f0e02c"/><stop offset="0.8" stop-color="#f49a28"/><stop offset="0.9" stop-color="#e83220"/><stop offset="1" stop-color="#c4001e"/></linearGradient></defs>
<rect x="346.30" y="439.70" width="50.10" height="10.50" fill="url(#gE2)"/>
<text x="333.70" y="447.90" font-size="7.2" textLength="10.20" lengthAdjust="spacingAndGlyphs" stroke="#231f20" stroke-width="0.18">Min</text>
<text x="398.30" y="447.90" font-size="7.2" textLength="12.10" lengthAdjust="spacingAndGlyphs" stroke="#231f20" stroke-width="0.18">Max</text>
<text x="371.40" y="458.20" font-size="7.0" text-anchor="middle" textLength="49.50" lengthAdjust="spacingAndGlyphs" stroke="#231f20" stroke-width="0.18">Enrichment Score</text>
<text x="7.40" y="484.90" font-size="10.6" font-weight="bold">D</text>
<line x1="49.40" y1="497.40" x2="49.40" y2="649.20" stroke="#231f20" stroke-width="1.1"/>
<line x1="47.20" y1="510.40" x2="49.40" y2="510.40" stroke="#231f20" stroke-width="0.9"/>
<text x="43.40" y="512.70" font-size="6.6" text-anchor="end" textLength="8.06" lengthAdjust="spacingAndGlyphs" stroke="#231f20" stroke-width="0.18">0.4</text>
<line x1="47.20" y1="554.70" x2="49.40" y2="554.70" stroke="#231f20" stroke-width="0.9"/>
<text x="43.40" y="557.00" font-size="6.6" text-anchor="end" textLength="8.06" lengthAdjust="spacingAndGlyphs" stroke="#231f20" stroke-width="0.18">0.2</text>
<line x1="47.20" y1="599.00" x2="49.40" y2="599.00" stroke="#231f20" stroke-width="0.9"/>
<text x="43.40" y="601.30" font-size="6.6" text-anchor="end" textLength="3.22" lengthAdjust="spacingAndGlyphs" stroke="#231f20" stroke-width="0.18">0</text>
<line x1="47.20" y1="643.30" x2="49.40" y2="643.30" stroke="#231f20" stroke-width="0.9"/>
<text x="43.40" y="645.60" font-size="6.6" text-anchor="end" textLength="11.44" lengthAdjust="spacingAndGlyphs" stroke="#231f20" stroke-width="0.18">−0.2</text>
<text x="25.80" y="573.30" font-size="6.8" text-anchor="middle" textLength="51.40" lengthAdjust="spacingAndGlyphs" transform="rotate(-90 25.80 573.30)" stroke="#231f20" stroke-width="0.18">Enrichment score</text>
<line x1="48.90" y1="648.80" x2="460.40" y2="648.80" stroke="#231f20" stroke-width="1.1"/>
<line x1="60.90" y1="566.90" x2="60.90" y2="636.90" stroke="#8c8c8c" stroke-width="0.95"/>
<path d="M60.90,601.20 C61.30,609.08 64.90,614.12 64.90,620.00 C64.90,625.46 61.30,630.14 60.90,637.60 C60.50,630.14 56.90,625.46 56.90,620.00 C56.90,614.12 60.50,609.08 60.90,601.20 Z" fill="#2b9ed2" stroke="#1c1c1c" stroke-width="0.55"/>
<line x1="60.90" y1="603.20" x2="60.90" y2="635.60" stroke="#1c2630" stroke-width="0.55" opacity="0.7"/>
<line x1="56.90" y1="620.00" x2="64.90" y2="620.00" stroke="#111111" stroke-width="1.0"/>
<line x1="68.70" y1="504.60" x2="68.70" y2="613.60" stroke="#8c8c8c" stroke-width="0.95"/>
<path d="M68.70,535.00 C69.10,549.00 70.80,559.29 70.80,571.30 C70.80,580.19 69.10,587.81 68.70,598.70 C68.30,587.81 66.60,580.19 66.60,571.30 C66.60,559.29 68.30,549.00 68.70,535.00 Z" fill="#b28a1e" stroke="#1c1c1c" stroke-width="0.55"/>
<line x1="68.70" y1="537.00" x2="68.70" y2="596.70" stroke="#1c2630" stroke-width="0.55" opacity="0.7"/>
<line x1="65.80" y1="571.30" x2="71.60" y2="571.30" stroke="#111111" stroke-width="1.0"/>
<line x1="65.60" y1="648.80" x2="65.60" y2="651.20" stroke="#231f20" stroke-width="0.9"/>
<text x="65.80" y="657.20" font-size="6.6" text-anchor="end" fill="#333333" textLength="16.13" lengthAdjust="spacingAndGlyphs" transform="rotate(-45 65.80 657.20)" stroke="#333333" stroke-width="0.18">FL-14</text>
<path d="M60.60,498.4 L60.60,492.8 L69.80,492.8 L69.80,498.4" fill="none" stroke="#333" stroke-width="0.9"/>
<path d="M61.75,488.15L61.75,490.25M60.85,488.68L62.65,489.72M60.85,489.72L62.65,488.68M64.05,488.15L64.05,490.25M63.15,488.68L64.95,489.72M63.15,489.72L64.95,488.68M66.35,488.15L66.35,490.25M65.45,488.68L67.25,489.72M65.45,489.72L67.25,488.68M68.65,488.15L68.65,490.25M67.75,488.68L69.55,489.72M67.75,489.72L69.55,488.68" stroke="#333" stroke-width="0.6" fill="none"/>
<line x1="80.10" y1="533.20" x2="80.10" y2="627.80" stroke="#8c8c8c" stroke-width="0.95"/>
<path d="M80.10,581.70 C80.50,590.07 83.40,595.53 83.40,601.90 C83.40,607.36 80.50,612.04 80.10,619.50 C79.70,612.04 76.80,607.36 76.80,601.90 C76.80,595.53 79.70,590.07 80.10,581.70 Z" fill="#2b9ed2" stroke="#1c1c1c" stroke-width="0.55"/>
<line x1="80.10" y1="583.70" x2="80.10" y2="617.50" stroke="#1c2630" stroke-width="0.55" opacity="0.7"/>
<line x1="76.80" y1="601.90" x2="83.40" y2="601.90" stroke="#111111" stroke-width="1.0"/>
<line x1="87.90" y1="546.10" x2="87.90" y2="623.90" stroke="#8c8c8c" stroke-width="0.95"/>
<path d="M87.90,561.00 C88.30,570.70 90.80,577.30 90.80,585.00 C90.80,591.83 88.30,597.67 87.90,606.50 C87.50,597.67 85.00,591.83 85.00,585.00 C85.00,577.30 87.50,570.70 87.90,561.00 Z" fill="#eab51f" stroke="#1c1c1c" stroke-width="0.55"/>
<line x1="87.90" y1="563.00" x2="87.90" y2="604.50" stroke="#1c2630" stroke-width="0.55" opacity="0.7"/>
<line x1="85.00" y1="585.00" x2="90.80" y2="585.00" stroke="#111111" stroke-width="1.0"/>
<line x1="84.80" y1="648.80" x2="84.80" y2="651.20" stroke="#231f20" stroke-width="0.9"/>
<text x="85.00" y="657.20" font-size="6.6" text-anchor="end" fill="#333333" textLength="16.13" lengthAdjust="spacingAndGlyphs" transform="rotate(-45 85.00 657.20)" stroke="#333333" stroke-width="0.18">FL-03</text>
<path d="M79.80,498.4 L79.80,492.8 L89.00,492.8 L89.00,498.4" fill="none" stroke="#333" stroke-width="0.9"/>
<path d="M80.95,488.15L80.95,490.25M80.05,488.68L81.85,489.72M80.05,489.72L81.85,488.68M83.25,488.15L83.25,490.25M82.35,488.68L84.15,489.72M82.35,489.72L84.15,488.68M85.55,488.15L85.55,490.25M84.65,488.68L86.45,489.72M84.65,489.72L86.45,488.68M87.85,488.15L87.85,490.25M86.95,488.68L88.75,489.72M86.95,489.72L88.75,488.68" stroke="#333" stroke-width="0.6" fill="none"/>
<line x1="99.30" y1="574.70" x2="99.30" y2="635.60" stroke="#8c8c8c" stroke-width="0.95"/>
<path d="M99.30,586.90 C99.70,595.24 102.50,600.66 102.50,607.00 C102.50,613.37 99.70,618.83 99.30,627.20 C98.90,618.83 96.10,613.37 96.10,607.00 C96.10,600.66 98.90,595.24 99.30,586.90 Z" fill="#2b9ed2" stroke="#1c1c1c" stroke-width="0.55"/>
<line x1="99.30" y1="588.90" x2="99.30" y2="625.20" stroke="#1c2630" stroke-width="0.55" opacity="0.7"/>
<line x1="96.10" y1="607.00" x2="102.50" y2="607.00" stroke="#111111" stroke-width="1.0"/>
<line x1="107.00" y1="540.90" x2="107.00" y2="631.70" stroke="#8c8c8c" stroke-width="0.95"/>
<path d="M107.00,558.40 C107.40,570.38 109.70,578.92 109.70,588.90 C109.70,596.18 107.40,602.42 107.00,611.70 C106.60,602.42 104.30,596.18 104.30,588.90 C104.30,578.92 106.60,570.38 107.00,558.40 Z" fill="#d0a01c" stroke="#1c1c1c" stroke-width="0.55"/>
<line x1="107.00" y1="560.40" x2="107.00" y2="609.70" stroke="#1c2630" stroke-width="0.55" opacity="0.7"/>
<line x1="104.10" y1="588.90" x2="109.90" y2="588.90" stroke="#111111" stroke-width="1.0"/>
<line x1="104.00" y1="648.80" x2="104.00" y2="651.20" stroke="#231f20" stroke-width="0.9"/>
<text x="104.20" y="657.20" font-size="6.6" text-anchor="end" fill="#333333" textLength="16.13" lengthAdjust="spacingAndGlyphs" transform="rotate(-45 104.20 657.20)" stroke="#333333" stroke-width="0.18">FL-01</text>
<path d="M99.00,498.4 L99.00,492.8 L108.10,492.8 L108.10,498.4" fill="none" stroke="#333" stroke-width="0.9"/>
<path d="M100.10,488.15L100.10,490.25M99.20,488.68L101.00,489.72M99.20,489.72L101.00,488.68M102.40,488.15L102.40,490.25M101.50,488.68L103.30,489.72M101.50,489.72L103.30,488.68M104.70,488.15L104.70,490.25M103.80,488.68L105.60,489.72M103.80,489.72L105.60,488.68M107.00,488.15L107.00,490.25M106.10,488.68L107.90,489.72M106.10,489.72L107.90,488.68" stroke="#333" stroke-width="0.6" fill="none"/>
<line x1="118.20" y1="561.70" x2="118.20" y2="631.70" stroke="#8c8c8c" stroke-width="0.95"/>
<path d="M118.20,581.70 C118.60,590.98 121.30,597.22 121.30,604.50 C121.30,610.38 118.60,615.42 118.20,623.30 C117.80,615.42 115.10,610.38 115.10,604.50 C115.10,597.22 117.80,590.98 118.20,581.70 Z" fill="#2b9ed2" stroke="#1c1c1c" stroke-width="0.55"/>
<line x1="118.20" y1="583.70" x2="118.20" y2="621.30" stroke="#1c2630" stroke-width="0.55" opacity="0.7"/>
<line x1="115.10" y1="604.50" x2="121.30" y2="604.50" stroke="#111111" stroke-width="1.0"/>
<line x1="126.00" y1="547.90" x2="126.00" y2="629.10" stroke="#8c8c8c" stroke-width="0.95"/>
<path d="M126.00,564.90 C126.40,576.14 128.70,584.06 128.70,593.30 C128.70,600.86 126.40,607.34 126.00,616.90 C125.60,607.34 123.30,600.86 123.30,593.30 C123.30,584.06 125.60,576.14 126.00,564.90 Z" fill="#d0a01c" stroke="#1c1c1c" stroke-width="0.55"/>
<line x1="126.00" y1="566.90" x2="126.00" y2="614.90" stroke="#1c2630" stroke-width="0.55" opacity="0.7"/>
<line x1="123.10" y1="593.30" x2="128.90" y2="593.30" stroke="#111111" stroke-width="1.0"/>
<line x1="123.20" y1="648.80" x2="123.20" y2="651.20" stroke="#231f20" stroke-width="0.9"/>
<text x="123.40" y="657.20" font-size="6.6" text-anchor="end" fill="#333333" textLength="16.13" lengthAdjust="spacingAndGlyphs" transform="rotate(-45 123.40 657.20)" stroke="#333333" stroke-width="0.18">FL-02</text>
<path d="M117.90,498.4 L117.90,492.8 L127.10,492.8 L127.10,498.4" fill="none" stroke="#333" stroke-width="0.9"/>
<path d="M119.05,488.15L119.05,490.25M118.15,488.68L119.95,489.72M118.15,489.72L119.95,488.68M121.35,488.15L121.35,490.25M120.45,488.68L122.25,489.72M120.45,489.72L122.25,488.68M123.65,488.15L123.65,490.25M122.75,488.68L124.55,489.72M122.75,489.72L124.55,488.68M125.95,488.15L125.95,490.25M125.05,488.68L126.85,489.72M125.05,489.72L126.85,488.68" stroke="#333" stroke-width="0.6" fill="none"/>
<line x1="137.70" y1="577.30" x2="137.70" y2="626.50" stroke="#8c8c8c" stroke-width="0.95"/>
<path d="M137.70,593.40 C138.10,600.12 140.90,604.17 140.90,608.90 C140.90,613.69 138.10,617.81 137.70,624.60 C137.30,617.81 134.50,613.69 134.50,608.90 C134.50,604.17 137.30,600.12 137.70,593.40 Z" fill="#2b9ed2" stroke="#1c1c1c" stroke-width="0.55"/>
<line x1="137.70" y1="595.40" x2="137.70" y2="622.60" stroke="#1c2630" stroke-width="0.55" opacity="0.7"/>
<line x1="134.50" y1="608.90" x2="140.90" y2="608.90" stroke="#111111" stroke-width="1.0"/>
<line x1="145.70" y1="556.50" x2="145.70" y2="629.10" stroke="#8c8c8c" stroke-width="0.95"/>
<path d="M145.70,570.00 C146.10,581.55 148.40,589.75 148.40,599.30 C148.40,606.54 146.10,612.75 145.70,622.00 C145.30,612.75 143.00,606.54 143.00,599.30 C143.00,589.75 145.30,581.55 145.70,570.00 Z" fill="#d0a01c" stroke="#1c1c1c" stroke-width="0.55"/>
<line x1="145.70" y1="572.00" x2="145.70" y2="620.00" stroke="#1c2630" stroke-width="0.55" opacity="0.7"/>
<line x1="142.80" y1="599.30" x2="148.60" y2="599.30" stroke="#111111" stroke-width="1.0"/>
<line x1="142.40" y1="648.80" x2="142.40" y2="651.20" stroke="#231f20" stroke-width="0.9"/>
<text x="142.60" y="657.20" font-size="6.6" text-anchor="end" fill="#333333" textLength="16.13" lengthAdjust="spacingAndGlyphs" transform="rotate(-45 142.60 657.20)" stroke="#333333" stroke-width="0.18">FL-08</text>
<path d="M137.40,498.4 L137.40,492.8 L146.80,492.8 L146.80,498.4" fill="none" stroke="#333" stroke-width="0.9"/>
<path d="M138.65,488.15L138.65,490.25M137.75,488.68L139.55,489.72M137.75,489.72L139.55,488.68M140.95,488.15L140.95,490.25M140.05,488.68L141.85,489.72M140.05,489.72L141.85,488.68M143.25,488.15L143.25,490.25M142.35,488.68L144.15,489.72M142.35,489.72L144.15,488.68M145.55,488.15L145.55,490.25M144.65,488.68L146.45,489.72M144.65,489.72L146.45,488.68" stroke="#333" stroke-width="0.6" fill="none"/>
<line x1="158.20" y1="582.40" x2="158.20" y2="635.60" stroke="#8c8c8c" stroke-width="0.95"/>
<path d="M158.20,597.30 C158.60,605.22 162.00,610.28 162.00,616.20 C162.00,621.17 158.60,625.43 158.20,632.40 C157.80,625.43 154.40,621.17 154.40,616.20 C154.40,610.28 157.80,605.22 158.20,597.30 Z" fill="#2b9ed2" stroke="#1c1c1c" stroke-width="0.55"/>
<line x1="158.20" y1="599.30" x2="158.20" y2="630.40" stroke="#1c2630" stroke-width="0.55" opacity="0.7"/>
<line x1="154.40" y1="616.20" x2="162.00" y2="616.20" stroke="#111111" stroke-width="1.0"/>
<line x1="165.90" y1="555.20" x2="165.90" y2="625.20" stroke="#8c8c8c" stroke-width="0.95"/>
<path d="M165.90,575.30 C166.30,584.09 168.90,589.91 168.90,596.70 C168.90,602.16 166.30,606.84 165.90,614.30 C165.50,606.84 162.90,602.16 162.90,596.70 C162.90,589.91 165.50,584.09 165.90,575.30 Z" fill="#eab51f" stroke="#1c1c1c" stroke-width="0.55"/>
<line x1="165.90" y1="577.30" x2="165.90" y2="612.30" stroke="#1c2630" stroke-width="0.55" opacity="0.7"/>
<line x1="162.90" y1="596.70" x2="168.90" y2="596.70" stroke="#111111" stroke-width="1.0"/>
<line x1="161.60" y1="648.80" x2="161.60" y2="651.20" stroke="#231f20" stroke-width="0.9"/>
<text x="161.80" y="657.20" font-size="6.6" text-anchor="end" fill="#333333" textLength="16.13" lengthAdjust="spacingAndGlyphs" transform="rotate(-45 161.80 657.20)" stroke="#333333" stroke-width="0.18">FL-13</text>
<path d="M157.90,498.4 L157.90,492.8 L167.00,492.8 L167.00,498.4" fill="none" stroke="#333" stroke-width="0.9"/>
<path d="M159.00,488.15L159.00,490.25M158.10,488.68L159.90,489.72M158.10,489.72L159.90,488.68M161.30,488.15L161.30,490.25M160.40,488.68L162.20,489.72M160.40,489.72L162.20,488.68M163.60,488.15L163.60,490.25M162.70,488.68L164.50,489.72M162.70,489.72L164.50,488.68M165.90,488.15L165.90,490.25M165.00,488.68L166.80,489.72M165.00,489.72L166.80,488.68" stroke="#333" stroke-width="0.6" fill="none"/>
<line x1="177.60" y1="521.50" x2="177.60" y2="634.30" stroke="#8c8c8c" stroke-width="0.95"/>
<path d="M177.60,586.90 C178.00,595.97 181.00,602.03 181.00,609.10 C181.00,614.74 178.00,619.57 177.60,627.20 C177.20,619.57 174.20,614.74 174.20,609.10 C174.20,602.03 177.20,595.97 177.60,586.90 Z" fill="#2b9ed2" stroke="#1c1c1c" stroke-width="0.55"/>
<line x1="177.60" y1="588.90" x2="177.60" y2="625.20" stroke="#1c2630" stroke-width="0.55" opacity="0.7"/>
<line x1="174.20" y1="609.10" x2="181.00" y2="609.10" stroke="#111111" stroke-width="1.0"/>
<line x1="185.40" y1="539.10" x2="185.40" y2="629.10" stroke="#8c8c8c" stroke-width="0.95"/>
<path d="M185.40,564.90 C185.80,575.96 188.40,583.74 188.40,592.80 C188.40,600.53 185.80,607.16 185.40,616.90 C185.00,607.16 182.40,600.53 182.40,592.80 C182.40,583.74 185.00,575.96 185.40,564.90 Z" fill="#eab51f" stroke="#1c1c1c" stroke-width="0.55"/>
<line x1="185.40" y1="566.90" x2="185.40" y2="614.90" stroke="#1c2630" stroke-width="0.55" opacity="0.7"/>
<line x1="182.40" y1="592.80" x2="188.40" y2="592.80" stroke="#111111" stroke-width="1.0"/>
<line x1="180.80" y1="648.80" x2="180.80" y2="651.20" stroke="#231f20" stroke-width="0.9"/>
<text x="181.00" y="657.20" font-size="6.6" text-anchor="end" fill="#333333" textLength="16.13" lengthAdjust="spacingAndGlyphs" transform="rotate(-45 181.00 657.20)" stroke="#333333" stroke-width="0.18">FL-19</text>
<path d="M177.30,498.4 L177.30,492.8 L186.50,492.8 L186.50,498.4" fill="none" stroke="#333" stroke-width="0.9"/>
<path d="M178.45,488.15L178.45,490.25M177.55,488.68L179.35,489.72M177.55,489.72L179.35,488.68M180.75,488.15L180.75,490.25M179.85,488.68L181.65,489.72M179.85,489.72L181.65,488.68M183.05,488.15L183.05,490.25M182.15,488.68L183.95,489.72M182.15,489.72L183.95,488.68M185.35,488.15L185.35,490.25M184.45,488.68L186.25,489.72M184.45,489.72L186.25,488.68" stroke="#333" stroke-width="0.6" fill="none"/>
<line x1="196.50" y1="564.30" x2="196.50" y2="631.70" stroke="#8c8c8c" stroke-width="0.95"/>
<path d="M196.50,584.30 C196.90,594.03 199.90,600.66 199.90,608.40 C199.90,613.82 196.90,618.48 196.50,625.90 C196.10,618.48 193.10,613.82 193.10,608.40 C193.10,600.66 196.10,594.03 196.50,584.30 Z" fill="#2b9ed2" stroke="#1c1c1c" stroke-width="0.55"/>
<line x1="196.50" y1="586.30" x2="196.50" y2="623.90" stroke="#1c2630" stroke-width="0.55" opacity="0.7"/>
<line x1="193.10" y1="608.40" x2="199.90" y2="608.40" stroke="#111111" stroke-width="1.0"/>
<line x1="204.80" y1="559.90" x2="204.80" y2="636.90" stroke="#8c8c8c" stroke-width="0.95"/>
<path d="M204.80,579.10 C205.20,587.93 208.00,593.77 208.00,600.60 C208.00,606.48 205.20,611.52 204.80,619.40 C204.40,611.52 201.60,606.48 201.60,600.60 C201.60,593.77 204.40,587.93 204.80,579.10 Z" fill="#eab51f" stroke="#1c1c1c" stroke-width="0.55"/>
<line x1="204.80" y1="581.10" x2="204.80" y2="617.40" stroke="#1c2630" stroke-width="0.55" opacity="0.7"/>
<line x1="201.60" y1="600.60" x2="208.00" y2="600.60" stroke="#111111" stroke-width="1.0"/>
<line x1="200.00" y1="648.80" x2="200.00" y2="651.20" stroke="#231f20" stroke-width="0.9"/>
<text x="200.20" y="657.20" font-size="6.6" text-anchor="end" fill="#333333" textLength="16.13" lengthAdjust="spacingAndGlyphs" transform="rotate(-45 200.20 657.20)" stroke="#333333" stroke-width="0.18">FL-17</text>
<path d="M196.20,498.4 L196.20,492.8 L205.90,492.8 L205.90,498.4" fill="none" stroke="#333" stroke-width="0.9"/>
<path d="M197.60,488.15L197.60,490.25M196.70,488.68L198.50,489.72M196.70,489.72L198.50,488.68M199.90,488.15L199.90,490.25M199.00,488.68L200.80,489.72M199.00,489.72L200.80,488.68M202.20,488.15L202.20,490.25M201.30,488.68L203.10,489.72M201.30,489.72L203.10,488.68M204.50,488.15L204.50,490.25M203.60,488.68L205.40,489.72M203.60,489.72L205.40,488.68" stroke="#333" stroke-width="0.6" fill="none"/>
<line x1="214.70" y1="554.70" x2="214.70" y2="638.70" stroke="#8c8c8c" stroke-width="0.95"/>
<path d="M214.70,581.70 C215.10,590.53 218.00,596.38 218.00,603.20 C218.00,609.08 215.10,614.12 214.70,622.00 C214.30,614.12 211.40,609.08 211.40,603.20 C211.40,596.38 214.30,590.53 214.70,581.70 Z" fill="#2b9ed2" stroke="#1c1c1c" stroke-width="0.55"/>
<line x1="214.70" y1="583.70" x2="214.70" y2="620.00" stroke="#1c2630" stroke-width="0.55" opacity="0.7"/>
<line x1="211.40" y1="603.20" x2="218.00" y2="603.20" stroke="#111111" stroke-width="1.0"/>
<line x1="222.50" y1="541.50" x2="222.50" y2="630.40" stroke="#8c8c8c" stroke-width="0.95"/>
<path d="M222.50,575.30 C222.90,585.28 225.70,592.12 225.70,600.10 C225.70,605.74 222.90,610.57 222.50,618.20 C222.10,610.57 219.30,605.74 219.30,600.10 C219.30,592.12 222.10,585.28 222.50,575.30 Z" fill="#eab51f" stroke="#1c1c1c" stroke-width="0.55"/>
<line x1="222.50" y1="577.30" x2="222.50" y2="616.20" stroke="#1c2630" stroke-width="0.55" opacity="0.7"/>
<line x1="219.30" y1="600.10" x2="225.70" y2="600.10" stroke="#111111" stroke-width="1.0"/>
<line x1="219.20" y1="648.80" x2="219.20" y2="651.20" stroke="#231f20" stroke-width="0.9"/>
<text x="219.40" y="657.20" font-size="6.6" text-anchor="end" fill="#333333" textLength="16.13" lengthAdjust="spacingAndGlyphs" transform="rotate(-45 219.40 657.20)" stroke="#333333" stroke-width="0.18">FL-20</text>
<path d="M214.40,498.4 L214.40,492.8 L223.60,492.8 L223.60,498.4" fill="none" stroke="#333" stroke-width="0.9"/>
<path d="M215.55,488.15L215.55,490.25M214.65,488.68L216.45,489.72M214.65,489.72L216.45,488.68M217.85,488.15L217.85,490.25M216.95,488.68L218.75,489.72M216.95,489.72L218.75,488.68M220.15,488.15L220.15,490.25M219.25,488.68L221.05,489.72M219.25,489.72L221.05,488.68M222.45,488.15L222.45,490.25M221.55,488.68L223.35,489.72M221.55,489.72L223.35,488.68" stroke="#333" stroke-width="0.6" fill="none"/>
<line x1="234.70" y1="585.00" x2="234.70" y2="639.50" stroke="#8c8c8c" stroke-width="0.95"/>
<path d="M234.70,599.90 C235.10,608.06 238.50,613.34 238.50,619.50 C238.50,623.31 235.10,626.59 234.70,632.40 C234.30,626.59 230.90,623.31 230.90,619.50 C230.90,613.34 234.30,608.06 234.70,599.90 Z" fill="#2b9ed2" stroke="#1c1c1c" stroke-width="0.55"/>
<line x1="234.70" y1="601.90" x2="234.70" y2="630.40" stroke="#1c2630" stroke-width="0.55" opacity="0.7"/>
<line x1="230.90" y1="619.50" x2="238.50" y2="619.50" stroke="#111111" stroke-width="1.0"/>
<line x1="242.40" y1="579.80" x2="242.40" y2="634.30" stroke="#8c8c8c" stroke-width="0.95"/>
<path d="M242.40,593.40 C242.80,602.23 245.80,608.07 245.80,614.90 C245.80,620.32 242.80,624.98 242.40,632.40 C242.00,624.98 239.00,620.32 239.00,614.90 C239.00,608.07 242.00,602.23 242.40,593.40 Z" fill="#eab51f" stroke="#1c1c1c" stroke-width="0.55"/>
<line x1="242.40" y1="595.40" x2="242.40" y2="630.40" stroke="#1c2630" stroke-width="0.55" opacity="0.7"/>
<line x1="239.00" y1="614.90" x2="245.80" y2="614.90" stroke="#111111" stroke-width="1.0"/>
<line x1="238.40" y1="648.80" x2="238.40" y2="651.20" stroke="#231f20" stroke-width="0.9"/>
<text x="238.60" y="657.20" font-size="6.6" text-anchor="end" fill="#333333" textLength="16.13" lengthAdjust="spacingAndGlyphs" transform="rotate(-45 238.60 657.20)" stroke="#333333" stroke-width="0.18">FL-07</text>
<path d="M234.40,498.4 L234.40,492.8 L243.50,492.8 L243.50,498.4" fill="none" stroke="#333" stroke-width="0.9"/>
<path d="M235.50,488.15L235.50,490.25M234.60,488.68L236.40,489.72M234.60,489.72L236.40,488.68M237.80,488.15L237.80,490.25M236.90,488.68L238.70,489.72M236.90,489.72L238.70,488.68M240.10,488.15L240.10,490.25M239.20,488.68L241.00,489.72M239.20,489.72L241.00,488.68M242.40,488.15L242.40,490.25M241.50,488.68L243.30,489.72M241.50,489.72L243.30,488.68" stroke="#333" stroke-width="0.6" fill="none"/>
<line x1="268.00" y1="521.50" x2="268.00" y2="629.10" stroke="#8c8c8c" stroke-width="0.95"/>
<path d="M268.00,541.50 C268.40,555.12 270.30,565.08 270.30,576.70 C270.30,586.88 268.40,595.62 268.00,607.80 C267.60,595.62 265.70,586.88 265.70,576.70 C265.70,565.08 267.60,555.12 268.00,541.50 Z" fill="#1f6f9c" stroke="#1c1c1c" stroke-width="0.55"/>
<line x1="268.00" y1="543.50" x2="268.00" y2="605.80" stroke="#1c2630" stroke-width="0.55" opacity="0.7"/>
<line x1="265.10" y1="576.70" x2="270.90" y2="576.70" stroke="#111111" stroke-width="1.0"/>
<line x1="275.70" y1="582.40" x2="275.70" y2="635.60" stroke="#8c8c8c" stroke-width="0.95"/>
<path d="M275.70,599.90 C276.10,606.24 279.70,609.96 279.70,614.30 C279.70,619.02 276.10,623.07 275.70,629.80 C275.30,623.07 271.70,619.02 271.70,614.30 C271.70,609.96 275.30,606.24 275.70,599.90 Z" fill="#eab51f" stroke="#1c1c1c" stroke-width="0.55"/>
<line x1="275.70" y1="601.90" x2="275.70" y2="627.80" stroke="#1c2630" stroke-width="0.55" opacity="0.7"/>
<line x1="271.70" y1="614.30" x2="279.70" y2="614.30" stroke="#111111" stroke-width="1.0"/>
<line x1="270.90" y1="648.80" x2="270.90" y2="651.20" stroke="#231f20" stroke-width="0.9"/>
<text x="271.10" y="657.20" font-size="6.6" text-anchor="end" fill="#333333" textLength="16.13" lengthAdjust="spacingAndGlyphs" transform="rotate(-45 271.10 657.20)" stroke="#333333" stroke-width="0.18">FL-15</text>
<path d="M267.70,498.4 L267.70,492.8 L276.80,492.8 L276.80,498.4" fill="none" stroke="#333" stroke-width="0.9"/>
<path d="M268.80,488.15L268.80,490.25M267.90,488.68L269.70,489.72M267.90,489.72L269.70,488.68M271.10,488.15L271.10,490.25M270.20,488.68L272.00,489.72M270.20,489.72L272.00,488.68M273.40,488.15L273.40,490.25M272.50,488.68L274.30,489.72M272.50,489.72L274.30,488.68M275.70,488.15L275.70,490.25M274.80,488.68L276.60,489.72M274.80,489.72L276.60,488.68" stroke="#333" stroke-width="0.6" fill="none"/>
<line x1="286.90" y1="528.80" x2="286.90" y2="640.80" stroke="#8c8c8c" stroke-width="0.95"/>
<path d="M286.90,551.90 C287.30,563.42 289.20,571.58 289.20,581.10 C289.20,590.16 287.30,597.94 286.90,609.00 C286.50,597.94 284.60,590.16 284.60,581.10 C284.60,571.58 286.50,563.42 286.90,551.90 Z" fill="#1f6f9c" stroke="#1c1c1c" stroke-width="0.55"/>
<line x1="286.90" y1="553.90" x2="286.90" y2="607.00" stroke="#1c2630" stroke-width="0.55" opacity="0.7"/>
<line x1="284.00" y1="581.10" x2="289.80" y2="581.10" stroke="#111111" stroke-width="1.0"/>
<line x1="294.70" y1="593.30" x2="294.70" y2="640.80" stroke="#8c8c8c" stroke-width="0.95"/>
<path d="M294.70,605.00 C295.10,611.10 298.90,614.61 298.90,618.70 C298.90,622.80 295.10,626.30 294.70,632.40 C294.30,626.30 290.50,622.80 290.50,618.70 C290.50,614.61 294.30,611.10 294.70,605.00 Z" fill="#eab51f" stroke="#1c1c1c" stroke-width="0.55"/>
<line x1="294.70" y1="607.00" x2="294.70" y2="630.40" stroke="#1c2630" stroke-width="0.55" opacity="0.7"/>
<line x1="290.50" y1="618.70" x2="298.90" y2="618.70" stroke="#111111" stroke-width="1.0"/>
<line x1="290.10" y1="648.80" x2="290.10" y2="651.20" stroke="#231f20" stroke-width="0.9"/>
<text x="290.30" y="657.20" font-size="6.6" text-anchor="end" fill="#333333" textLength="16.13" lengthAdjust="spacingAndGlyphs" transform="rotate(-45 290.30 657.20)" stroke="#333333" stroke-width="0.18">FL-10</text>
<path d="M286.60,498.4 L286.60,492.8 L295.80,492.8 L295.80,498.4" fill="none" stroke="#333" stroke-width="0.9"/>
<path d="M287.75,488.15L287.75,490.25M286.85,488.68L288.65,489.72M286.85,489.72L288.65,488.68M290.05,488.15L290.05,490.25M289.15,488.68L290.95,489.72M289.15,489.72L290.95,488.68M292.35,488.15L292.35,490.25M291.45,488.68L293.25,489.72M291.45,489.72L293.25,488.68M294.65,488.15L294.65,490.25M293.75,488.68L295.55,489.72M293.75,489.72L295.55,488.68" stroke="#333" stroke-width="0.6" fill="none"/>
<line x1="306.30" y1="542.20" x2="306.30" y2="629.10" stroke="#8c8c8c" stroke-width="0.95"/>
<path d="M306.30,567.50 C306.70,576.75 309.30,582.96 309.30,590.20 C309.30,596.57 306.70,602.03 306.30,610.40 C305.90,602.03 303.30,596.57 303.30,590.20 C303.30,582.96 305.90,576.75 306.30,567.50 Z" fill="#2b9ed2" stroke="#1c1c1c" stroke-width="0.55"/>
<line x1="306.30" y1="569.50" x2="306.30" y2="608.40" stroke="#1c2630" stroke-width="0.55" opacity="0.7"/>
<line x1="303.30" y1="590.20" x2="309.30" y2="590.20" stroke="#111111" stroke-width="1.0"/>
<line x1="314.10" y1="576.00" x2="314.10" y2="635.60" stroke="#8c8c8c" stroke-width="0.95"/>
<path d="M314.10,592.10 C314.50,600.19 317.70,605.41 317.70,611.50 C317.70,616.75 314.50,621.25 314.10,628.50 C313.70,621.25 310.50,616.75 310.50,611.50 C310.50,605.41 313.70,600.19 314.10,592.10 Z" fill="#eab51f" stroke="#1c1c1c" stroke-width="0.55"/>
<line x1="314.10" y1="594.10" x2="314.10" y2="626.50" stroke="#1c2630" stroke-width="0.55" opacity="0.7"/>
<line x1="310.50" y1="611.50" x2="317.70" y2="611.50" stroke="#111111" stroke-width="1.0"/>
<line x1="309.30" y1="648.80" x2="309.30" y2="651.20" stroke="#231f20" stroke-width="0.9"/>
<text x="309.50" y="657.20" font-size="6.6" text-anchor="end" fill="#333333" textLength="16.13" lengthAdjust="spacingAndGlyphs" transform="rotate(-45 309.50 657.20)" stroke="#333333" stroke-width="0.18">FL-04</text>
<path d="M306.00,498.4 L306.00,492.8 L315.20,492.8 L315.20,498.4" fill="none" stroke="#333" stroke-width="0.9"/>
<path d="M307.15,488.15L307.15,490.25M306.25,488.68L308.05,489.72M306.25,489.72L308.05,488.68M309.45,488.15L309.45,490.25M308.55,488.68L310.35,489.72M308.55,489.72L310.35,488.68M311.75,488.15L311.75,490.25M310.85,488.68L312.65,489.72M310.85,489.72L312.65,488.68M314.05,488.15L314.05,490.25M313.15,488.68L314.95,489.72M313.15,489.72L314.95,488.68" stroke="#333" stroke-width="0.6" fill="none"/>
<line x1="324.50" y1="539.60" x2="324.50" y2="627.80" stroke="#8c8c8c" stroke-width="0.95"/>
<path d="M324.50,568.80 C324.90,578.67 327.40,585.42 327.40,593.30 C327.40,599.95 324.90,605.65 324.50,614.30 C324.10,605.65 321.60,599.95 321.60,593.30 C321.60,585.42 324.10,578.67 324.50,568.80 Z" fill="#2b9ed2" stroke="#1c1c1c" stroke-width="0.55"/>
<line x1="324.50" y1="570.80" x2="324.50" y2="612.30" stroke="#1c2630" stroke-width="0.55" opacity="0.7"/>
<line x1="321.60" y1="593.30" x2="327.40" y2="593.30" stroke="#111111" stroke-width="1.0"/>
<line x1="332.30" y1="578.00" x2="332.30" y2="635.60" stroke="#8c8c8c" stroke-width="0.95"/>
<path d="M332.30,594.70 C332.70,601.71 335.90,606.00 335.90,611.00 C335.90,615.97 332.70,620.23 332.30,627.20 C331.90,620.23 328.70,615.97 328.70,611.00 C328.70,606.00 331.90,601.71 332.30,594.70 Z" fill="#eab51f" stroke="#1c1c1c" stroke-width="0.55"/>
<line x1="332.30" y1="596.70" x2="332.30" y2="625.20" stroke="#1c2630" stroke-width="0.55" opacity="0.7"/>
<line x1="328.70" y1="611.00" x2="335.90" y2="611.00" stroke="#111111" stroke-width="1.0"/>
<line x1="328.50" y1="648.80" x2="328.50" y2="651.20" stroke="#231f20" stroke-width="0.9"/>
<text x="328.70" y="657.20" font-size="6.6" text-anchor="end" fill="#333333" textLength="16.13" lengthAdjust="spacingAndGlyphs" transform="rotate(-45 328.70 657.20)" stroke="#333333" stroke-width="0.18">FL-05</text>
<path d="M324.20,498.4 L324.20,492.8 L333.40,492.8 L333.40,498.4" fill="none" stroke="#333" stroke-width="0.9"/>
<path d="M325.35,488.15L325.35,490.25M324.45,488.68L326.25,489.72M324.45,489.72L326.25,488.68M327.65,488.15L327.65,490.25M326.75,488.68L328.55,489.72M326.75,489.72L328.55,488.68M329.95,488.15L329.95,490.25M329.05,488.68L330.85,489.72M329.05,489.72L330.85,488.68M332.25,488.15L332.25,490.25M331.35,488.68L333.15,489.72M331.35,489.72L333.15,488.68" stroke="#333" stroke-width="0.6" fill="none"/>
<line x1="343.90" y1="552.60" x2="343.90" y2="629.80" stroke="#8c8c8c" stroke-width="0.95"/>
<path d="M343.90,568.70 C344.30,579.76 347.00,587.54 347.00,596.60 C347.00,602.97 344.30,608.43 343.90,616.80 C343.50,608.43 340.80,602.97 340.80,596.60 C340.80,587.54 343.50,579.76 343.90,568.70 Z" fill="#2b9ed2" stroke="#1c1c1c" stroke-width="0.55"/>
<line x1="343.90" y1="570.70" x2="343.90" y2="614.80" stroke="#1c2630" stroke-width="0.55" opacity="0.7"/>
<line x1="340.80" y1="596.60" x2="347.00" y2="596.60" stroke="#111111" stroke-width="1.0"/>
<line x1="351.70" y1="579.30" x2="351.70" y2="637.60" stroke="#8c8c8c" stroke-width="0.95"/>
<path d="M351.70,595.90 C352.10,603.53 355.70,608.37 355.70,614.00 C355.70,617.92 352.10,621.28 351.70,627.20 C351.30,621.28 347.70,617.92 347.70,614.00 C347.70,608.37 351.30,603.53 351.70,595.90 Z" fill="#eab51f" stroke="#1c1c1c" stroke-width="0.55"/>
<line x1="351.70" y1="597.90" x2="351.70" y2="625.20" stroke="#1c2630" stroke-width="0.55" opacity="0.7"/>
<line x1="347.70" y1="614.00" x2="355.70" y2="614.00" stroke="#111111" stroke-width="1.0"/>
<line x1="347.70" y1="648.80" x2="347.70" y2="651.20" stroke="#231f20" stroke-width="0.9"/>
<text x="347.90" y="657.20" font-size="6.6" text-anchor="end" fill="#333333" textLength="15.67" lengthAdjust="spacingAndGlyphs" transform="rotate(-45 347.90 657.20)" stroke="#333333" stroke-width="0.18">FL-11</text>
<path d="M343.60,498.4 L343.60,492.8 L352.80,492.8 L352.80,498.4" fill="none" stroke="#333" stroke-width="0.9"/>
<path d="M344.75,488.15L344.75,490.25M343.85,488.68L345.65,489.72M343.85,489.72L345.65,488.68M347.05,488.15L347.05,490.25M346.15,488.68L347.95,489.72M346.15,489.72L347.95,488.68M349.35,488.15L349.35,490.25M348.45,488.68L350.25,489.72M348.45,489.72L350.25,488.68M351.65,488.15L351.65,490.25M350.75,488.68L352.55,489.72M350.75,489.72L352.55,488.68" stroke="#333" stroke-width="0.6" fill="none"/>
<line x1="363.30" y1="544.80" x2="363.30" y2="626.40" stroke="#8c8c8c" stroke-width="0.95"/>
<path d="M363.30,571.30 C363.70,581.28 366.40,588.12 366.40,596.10 C366.40,601.74 363.70,606.57 363.30,614.20 C362.90,606.57 360.20,601.74 360.20,596.10 C360.20,588.12 362.90,581.28 363.30,571.30 Z" fill="#2b9ed2" stroke="#1c1c1c" stroke-width="0.55"/>
<line x1="363.30" y1="573.30" x2="363.30" y2="612.20" stroke="#1c2630" stroke-width="0.55" opacity="0.7"/>
<line x1="360.20" y1="596.10" x2="366.40" y2="596.10" stroke="#111111" stroke-width="1.0"/>
<line x1="371.10" y1="577.20" x2="371.10" y2="636.30" stroke="#8c8c8c" stroke-width="0.95"/>
<path d="M371.10,592.00 C371.50,599.46 374.90,604.14 374.90,609.60 C374.90,614.15 371.50,618.05 371.10,624.60 C370.70,618.05 367.30,614.15 367.30,609.60 C367.30,604.14 370.70,599.46 371.10,592.00 Z" fill="#eab51f" stroke="#1c1c1c" stroke-width="0.55"/>
<line x1="371.10" y1="594.00" x2="371.10" y2="622.60" stroke="#1c2630" stroke-width="0.55" opacity="0.7"/>
<line x1="367.30" y1="609.60" x2="374.90" y2="609.60" stroke="#111111" stroke-width="1.0"/>
<line x1="366.90" y1="648.80" x2="366.90" y2="651.20" stroke="#231f20" stroke-width="0.9"/>
<text x="367.10" y="657.20" font-size="6.6" text-anchor="end" fill="#333333" textLength="16.13" lengthAdjust="spacingAndGlyphs" transform="rotate(-45 367.10 657.20)" stroke="#333333" stroke-width="0.18">FL-06</text>
<path d="M363.00,498.4 L363.00,492.8 L372.20,492.8 L372.20,498.4" fill="none" stroke="#333" stroke-width="0.9"/>
<path d="M364.15,488.15L364.15,490.25M363.25,488.68L365.05,489.72M363.25,489.72L365.05,488.68M366.45,488.15L366.45,490.25M365.55,488.68L367.35,489.72M365.55,489.72L367.35,488.68M368.75,488.15L368.75,490.25M367.85,488.68L369.65,489.72M367.85,489.72L369.65,488.68M371.05,488.15L371.05,490.25M370.15,488.68L371.95,489.72M370.15,489.72L371.95,488.68" stroke="#333" stroke-width="0.6" fill="none"/>
<line x1="382.20" y1="562.40" x2="382.20" y2="629.80" stroke="#8c8c8c" stroke-width="0.95"/>
<path d="M382.20,581.70 C382.60,589.75 385.60,594.95 385.60,601.00 C385.60,606.74 382.60,611.66 382.20,619.40 C381.80,611.66 378.80,606.74 378.80,601.00 C378.80,594.95 381.80,589.75 382.20,581.70 Z" fill="#2b9ed2" stroke="#1c1c1c" stroke-width="0.55"/>
<line x1="382.20" y1="583.70" x2="382.20" y2="617.40" stroke="#1c2630" stroke-width="0.55" opacity="0.7"/>
<line x1="378.80" y1="601.00" x2="385.60" y2="601.00" stroke="#111111" stroke-width="1.0"/>
<line x1="390.00" y1="563.70" x2="390.00" y2="639.40" stroke="#8c8c8c" stroke-width="0.95"/>
<path d="M390.00,585.60 C390.40,593.76 393.60,599.04 393.60,605.20 C393.60,610.38 390.40,614.82 390.00,622.00 C389.60,614.82 386.40,610.38 386.40,605.20 C386.40,599.04 389.60,593.76 390.00,585.60 Z" fill="#eab51f" stroke="#1c1c1c" stroke-width="0.55"/>
<line x1="390.00" y1="587.60" x2="390.00" y2="620.00" stroke="#1c2630" stroke-width="0.55" opacity="0.7"/>
<line x1="386.40" y1="605.20" x2="393.60" y2="605.20" stroke="#111111" stroke-width="1.0"/>
<line x1="386.10" y1="648.80" x2="386.10" y2="651.20" stroke="#231f20" stroke-width="0.9"/>
<text x="386.30" y="657.20" font-size="6.6" text-anchor="end" fill="#333333" textLength="16.13" lengthAdjust="spacingAndGlyphs" transform="rotate(-45 386.30 657.20)" stroke="#333333" stroke-width="0.18">FL-12</text>
<path d="M381.90,498.4 L381.90,492.8 L391.10,492.8 L391.10,498.4" fill="none" stroke="#333" stroke-width="0.9"/>
<path d="M383.05,488.15L383.05,490.25M382.15,488.68L383.95,489.72M382.15,489.72L383.95,488.68M385.35,488.15L385.35,490.25M384.45,488.68L386.25,489.72M384.45,489.72L386.25,488.68M387.65,488.15L387.65,490.25M386.75,488.68L388.55,489.72M386.75,489.72L388.55,488.68M389.95,488.15L389.95,490.25M389.05,488.68L390.85,489.72M389.05,489.72L390.85,488.68" stroke="#333" stroke-width="0.6" fill="none"/>
<line x1="400.90" y1="561.60" x2="400.90" y2="641.20" stroke="#8c8c8c" stroke-width="0.95"/>
<path d="M400.90,577.80 C401.30,587.50 404.10,594.10 404.10,601.80 C404.10,608.62 401.30,614.47 400.90,623.30 C400.50,614.47 397.70,608.62 397.70,601.80 C397.70,594.10 400.50,587.50 400.90,577.80 Z" fill="#2b9ed2" stroke="#1c1c1c" stroke-width="0.55"/>
<line x1="400.90" y1="579.80" x2="400.90" y2="621.30" stroke="#1c2630" stroke-width="0.55" opacity="0.7"/>
<line x1="397.70" y1="601.80" x2="404.10" y2="601.80" stroke="#111111" stroke-width="1.0"/>
<line x1="408.70" y1="580.30" x2="408.70" y2="635.50" stroke="#8c8c8c" stroke-width="0.95"/>
<path d="M408.70,594.60 C409.10,602.97 412.50,608.43 412.50,614.80 C412.50,619.77 409.10,624.03 408.70,631.00 C408.30,624.03 404.90,619.77 404.90,614.80 C404.90,608.43 408.30,602.97 408.70,594.60 Z" fill="#eab51f" stroke="#1c1c1c" stroke-width="0.55"/>
<line x1="408.70" y1="596.60" x2="408.70" y2="629.00" stroke="#1c2630" stroke-width="0.55" opacity="0.7"/>
<line x1="404.90" y1="614.80" x2="412.50" y2="614.80" stroke="#111111" stroke-width="1.0"/>
<line x1="405.30" y1="648.80" x2="405.30" y2="651.20" stroke="#231f20" stroke-width="0.9"/>
<text x="405.50" y="657.20" font-size="6.6" text-anchor="end" fill="#333333" textLength="16.13" lengthAdjust="spacingAndGlyphs" transform="rotate(-45 405.50 657.20)" stroke="#333333" stroke-width="0.18">FL-18</text>
<path d="M400.60,498.4 L400.60,492.8 L409.80,492.8 L409.80,498.4" fill="none" stroke="#333" stroke-width="0.9"/>
<path d="M401.75,488.15L401.75,490.25M400.85,488.68L402.65,489.72M400.85,489.72L402.65,488.68M404.05,488.15L404.05,490.25M403.15,488.68L404.95,489.72M403.15,489.72L404.95,488.68M406.35,488.15L406.35,490.25M405.45,488.68L407.25,489.72M405.45,489.72L407.25,488.68M408.65,488.15L408.65,490.25M407.75,488.68L409.55,489.72M407.75,489.72L409.55,488.68" stroke="#333" stroke-width="0.6" fill="none"/>
<line x1="420.40" y1="557.20" x2="420.40" y2="631.60" stroke="#8c8c8c" stroke-width="0.95"/>
<path d="M420.40,584.30 C420.80,592.46 424.10,597.74 424.10,603.90 C424.10,609.08 420.80,613.52 420.40,620.70 C420.00,613.52 416.70,609.08 416.70,603.90 C416.70,597.74 420.00,592.46 420.40,584.30 Z" fill="#2b9ed2" stroke="#1c1c1c" stroke-width="0.55"/>
<line x1="420.40" y1="586.30" x2="420.40" y2="618.70" stroke="#1c2630" stroke-width="0.55" opacity="0.7"/>
<line x1="416.70" y1="603.90" x2="424.10" y2="603.90" stroke="#111111" stroke-width="1.0"/>
<line x1="428.10" y1="559.10" x2="428.10" y2="630.30" stroke="#8c8c8c" stroke-width="0.95"/>
<path d="M428.10,584.30 C428.50,593.54 432.00,599.75 432.00,607.00 C432.00,611.55 428.50,615.45 428.10,622.00 C427.70,615.45 424.20,611.55 424.20,607.00 C424.20,599.75 427.70,593.54 428.10,584.30 Z" fill="#eab51f" stroke="#1c1c1c" stroke-width="0.55"/>
<line x1="428.10" y1="586.30" x2="428.10" y2="620.00" stroke="#1c2630" stroke-width="0.55" opacity="0.7"/>
<line x1="424.20" y1="607.00" x2="432.00" y2="607.00" stroke="#111111" stroke-width="1.0"/>
<line x1="424.50" y1="648.80" x2="424.50" y2="651.20" stroke="#231f20" stroke-width="0.9"/>
<text x="424.70" y="657.20" font-size="6.6" text-anchor="end" fill="#333333" textLength="16.13" lengthAdjust="spacingAndGlyphs" transform="rotate(-45 424.70 657.20)" stroke="#333333" stroke-width="0.18">FL-09</text>
<path d="M420.10,498.4 L420.10,492.8 L429.20,492.8 L429.20,498.4" fill="none" stroke="#333" stroke-width="0.9"/>
<path d="M421.20,488.15L421.20,490.25M420.30,488.68L422.10,489.72M420.30,489.72L422.10,488.68M423.50,488.15L423.50,490.25M422.60,488.68L424.40,489.72M422.60,489.72L424.40,488.68M425.80,488.15L425.80,490.25M424.90,488.68L426.70,489.72M424.90,489.72L426.70,488.68M428.10,488.15L428.10,490.25M427.20,488.68L429.00,489.72M427.20,489.72L429.00,488.68" stroke="#333" stroke-width="0.6" fill="none"/>
<line x1="438.50" y1="570.70" x2="438.50" y2="632.90" stroke="#8c8c8c" stroke-width="0.95"/>
<path d="M438.50,586.90 C438.90,594.61 442.10,599.50 442.10,605.20 C442.10,610.38 438.90,614.82 438.50,622.00 C438.10,614.82 434.90,610.38 434.90,605.20 C434.90,599.50 438.10,594.61 438.50,586.90 Z" fill="#2b9ed2" stroke="#1c1c1c" stroke-width="0.55"/>
<line x1="438.50" y1="588.90" x2="438.50" y2="620.00" stroke="#1c2630" stroke-width="0.55" opacity="0.7"/>
<line x1="434.90" y1="605.20" x2="442.10" y2="605.20" stroke="#111111" stroke-width="1.0"/>
<line x1="446.30" y1="573.80" x2="446.30" y2="638.60" stroke="#8c8c8c" stroke-width="0.95"/>
<path d="M446.30,586.90 C446.70,594.96 449.90,600.14 449.90,606.20 C449.90,611.49 446.70,616.01 446.30,623.30 C445.90,616.01 442.70,611.49 442.70,606.20 C442.70,600.14 445.90,594.96 446.30,586.90 Z" fill="#eab51f" stroke="#1c1c1c" stroke-width="0.55"/>
<line x1="446.30" y1="588.90" x2="446.30" y2="621.30" stroke="#1c2630" stroke-width="0.55" opacity="0.7"/>
<line x1="442.70" y1="606.20" x2="449.90" y2="606.20" stroke="#111111" stroke-width="1.0"/>
<line x1="443.70" y1="648.80" x2="443.70" y2="651.20" stroke="#231f20" stroke-width="0.9"/>
<text x="443.90" y="657.20" font-size="6.6" text-anchor="end" fill="#333333" textLength="16.13" lengthAdjust="spacingAndGlyphs" transform="rotate(-45 443.90 657.20)" stroke="#333333" stroke-width="0.18">FL-16</text>
<path d="M438.20,498.4 L438.20,492.8 L447.40,492.8 L447.40,498.4" fill="none" stroke="#333" stroke-width="0.9"/>
<path d="M439.35,488.15L439.35,490.25M438.45,488.68L440.25,489.72M438.45,489.72L440.25,488.68M441.65,488.15L441.65,490.25M440.75,488.68L442.55,489.72M440.75,489.72L442.55,488.68M443.95,488.15L443.95,490.25M443.05,488.68L444.85,489.72M443.05,489.72L444.85,488.68M446.25,488.15L446.25,490.25M445.35,488.68L447.15,489.72M445.35,489.72L447.15,488.68" stroke="#333" stroke-width="0.6" fill="none"/>
<rect x="225.20" y="680.60" width="5.60" height="5.60" fill="#2b9ad2"/>
<text x="233.90" y="685.80" font-size="6.8" textLength="15.90" lengthAdjust="spacingAndGlyphs" stroke="#231f20" stroke-width="0.18">CC17</text>
<rect x="259.80" y="680.60" width="5.60" height="5.60" fill="#ecb81e"/>
<text x="268.50" y="685.80" font-size="6.8" textLength="15.50" lengthAdjust="spacingAndGlyphs" stroke="#231f20" stroke-width="0.18">CC21</text>
</svg></body></html>
